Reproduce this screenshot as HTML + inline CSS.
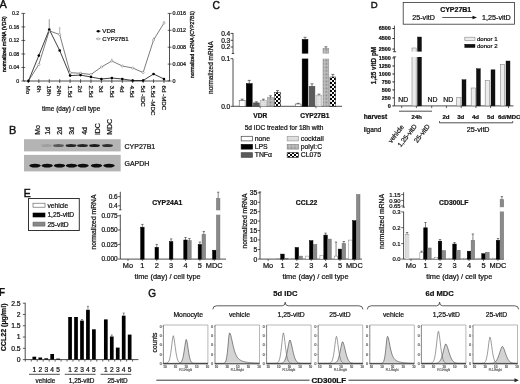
<!DOCTYPE html>
<html><head><meta charset="utf-8"><style>
html,body{margin:0;padding:0;background:#fff;width:520px;height:384px;overflow:hidden}
svg{display:block;font-family:"Liberation Sans", sans-serif;filter:grayscale(1) blur(0.3px)}
text{stroke-width:0.22}
</style></head><body>
<svg width="520" height="384" viewBox="0 0 520 384">
<rect width="520" height="384" fill="#fff"/>
<text x="-0.50" y="7.74" font-size="11" text-anchor="start" font-weight="normal" fill="#111" stroke="#111" style="stroke-width:0.4">A</text>
<line x1="23.40" y1="13.40" x2="23.40" y2="81.00" stroke="#222" stroke-width="0.8" />
<line x1="21.40" y1="81.00" x2="25.20" y2="81.00" stroke="#222" stroke-width="0.7" />
<text x="19.30" y="82.90" font-size="5.3" text-anchor="end" font-weight="normal" fill="#111" stroke="#111" >0</text>
<line x1="21.40" y1="67.48" x2="25.20" y2="67.48" stroke="#222" stroke-width="0.7" />
<text x="19.30" y="69.38" font-size="5.3" text-anchor="end" font-weight="normal" fill="#111" stroke="#111" >0.04</text>
<line x1="21.40" y1="53.96" x2="25.20" y2="53.96" stroke="#222" stroke-width="0.7" />
<text x="19.30" y="55.86" font-size="5.3" text-anchor="end" font-weight="normal" fill="#111" stroke="#111" >0.08</text>
<line x1="21.40" y1="40.44" x2="25.20" y2="40.44" stroke="#222" stroke-width="0.7" />
<text x="19.30" y="42.34" font-size="5.3" text-anchor="end" font-weight="normal" fill="#111" stroke="#111" >0.12</text>
<line x1="21.40" y1="26.92" x2="25.20" y2="26.92" stroke="#222" stroke-width="0.7" />
<text x="19.30" y="28.82" font-size="5.3" text-anchor="end" font-weight="normal" fill="#111" stroke="#111" >0.16</text>
<line x1="21.40" y1="13.40" x2="25.20" y2="13.40" stroke="#222" stroke-width="0.7" />
<text x="19.30" y="15.30" font-size="5.3" text-anchor="end" font-weight="normal" fill="#111" stroke="#111" >0.2</text>
<line x1="169.50" y1="13.40" x2="169.50" y2="81.00" stroke="#222" stroke-width="0.8" />
<line x1="167.70" y1="81.00" x2="171.50" y2="81.00" stroke="#222" stroke-width="0.7" />
<text x="172.40" y="82.93" font-size="5.4" text-anchor="start" font-weight="normal" fill="#111" stroke="#111" >0</text>
<line x1="167.70" y1="64.10" x2="171.50" y2="64.10" stroke="#222" stroke-width="0.7" />
<text x="172.40" y="66.03" font-size="5.4" text-anchor="start" font-weight="normal" fill="#111" stroke="#111" >0.004</text>
<line x1="167.70" y1="47.20" x2="171.50" y2="47.20" stroke="#222" stroke-width="0.7" />
<text x="172.40" y="49.13" font-size="5.4" text-anchor="start" font-weight="normal" fill="#111" stroke="#111" >0.008</text>
<line x1="167.70" y1="30.30" x2="171.50" y2="30.30" stroke="#222" stroke-width="0.7" />
<text x="172.40" y="32.23" font-size="5.4" text-anchor="start" font-weight="normal" fill="#111" stroke="#111" >0.012</text>
<line x1="167.70" y1="13.40" x2="171.50" y2="13.40" stroke="#222" stroke-width="0.7" />
<text x="172.40" y="15.33" font-size="5.4" text-anchor="start" font-weight="normal" fill="#111" stroke="#111" >0.016</text>
<line x1="23.40" y1="81.00" x2="169.50" y2="81.00" stroke="#222" stroke-width="0.8" />
<line x1="28.40" y1="79.20" x2="28.40" y2="83.00" stroke="#222" stroke-width="0.7" />
<line x1="38.83" y1="79.20" x2="38.83" y2="83.00" stroke="#222" stroke-width="0.7" />
<line x1="49.26" y1="79.20" x2="49.26" y2="83.00" stroke="#222" stroke-width="0.7" />
<line x1="59.69" y1="79.20" x2="59.69" y2="83.00" stroke="#222" stroke-width="0.7" />
<line x1="70.12" y1="79.20" x2="70.12" y2="83.00" stroke="#222" stroke-width="0.7" />
<line x1="80.55" y1="79.20" x2="80.55" y2="83.00" stroke="#222" stroke-width="0.7" />
<line x1="90.98" y1="79.20" x2="90.98" y2="83.00" stroke="#222" stroke-width="0.7" />
<line x1="101.41" y1="79.20" x2="101.41" y2="83.00" stroke="#222" stroke-width="0.7" />
<line x1="111.84" y1="79.20" x2="111.84" y2="83.00" stroke="#222" stroke-width="0.7" />
<line x1="122.27" y1="79.20" x2="122.27" y2="83.00" stroke="#222" stroke-width="0.7" />
<line x1="132.70" y1="79.20" x2="132.70" y2="83.00" stroke="#222" stroke-width="0.7" />
<line x1="143.13" y1="79.20" x2="143.13" y2="83.00" stroke="#222" stroke-width="0.7" />
<line x1="153.56" y1="79.20" x2="153.56" y2="83.00" stroke="#222" stroke-width="0.7" />
<line x1="163.99" y1="79.20" x2="163.99" y2="83.00" stroke="#222" stroke-width="0.7" />
<line x1="49.26" y1="19.20" x2="49.26" y2="29.50" stroke="#333" stroke-width="0.5" />
<line x1="59.69" y1="27.80" x2="59.69" y2="34.60" stroke="#aaa" stroke-width="0.9" />
<line x1="58.69" y1="27.80" x2="60.69" y2="27.80" stroke="#aaa" stroke-width="0.6" />
<line x1="111.84" y1="58.50" x2="111.84" y2="61.00" stroke="#888" stroke-width="0.6" />
<line x1="153.56" y1="37.50" x2="153.56" y2="40.00" stroke="#888" stroke-width="0.6" />
<line x1="163.99" y1="21.00" x2="163.99" y2="23.00" stroke="#888" stroke-width="0.6" />
<path d="M28.40,81.00 L38.83,64.50 L49.26,30.80 L59.69,34.60 L70.12,72.70 L80.55,73.30 L90.98,74.50 L101.41,67.00 L111.84,61.00 L122.27,66.00 L132.70,68.00 L143.13,72.50 L153.56,40.00 L163.99,23.00" fill="none" stroke="#444" stroke-width="0.7" />
<path d="M28.40,81.00 L38.83,55.60 L49.26,29.50 L59.69,50.50 L70.12,75.60 L80.55,75.10 L90.98,77.00 L101.41,79.00 L111.84,78.00 L122.27,79.00 L132.70,80.50 L143.13,80.50 L153.56,74.00 L163.99,79.00" fill="none" stroke="#111" stroke-width="0.8" />
<circle cx="28.40" cy="81.00" r="1.1" fill="#fff" stroke="#777" stroke-width="0.5"/>
<circle cx="38.83" cy="64.50" r="1.1" fill="#fff" stroke="#777" stroke-width="0.5"/>
<circle cx="49.26" cy="30.80" r="1.1" fill="#fff" stroke="#777" stroke-width="0.5"/>
<circle cx="59.69" cy="34.60" r="1.1" fill="#fff" stroke="#777" stroke-width="0.5"/>
<circle cx="70.12" cy="72.70" r="1.1" fill="#fff" stroke="#777" stroke-width="0.5"/>
<circle cx="80.55" cy="73.30" r="1.1" fill="#fff" stroke="#777" stroke-width="0.5"/>
<circle cx="90.98" cy="74.50" r="1.1" fill="#fff" stroke="#777" stroke-width="0.5"/>
<circle cx="101.41" cy="67.00" r="1.1" fill="#fff" stroke="#777" stroke-width="0.5"/>
<circle cx="111.84" cy="61.00" r="1.1" fill="#fff" stroke="#777" stroke-width="0.5"/>
<circle cx="122.27" cy="66.00" r="1.1" fill="#fff" stroke="#777" stroke-width="0.5"/>
<circle cx="132.70" cy="68.00" r="1.1" fill="#fff" stroke="#777" stroke-width="0.5"/>
<circle cx="143.13" cy="72.50" r="1.1" fill="#fff" stroke="#777" stroke-width="0.5"/>
<circle cx="153.56" cy="40.00" r="1.1" fill="#fff" stroke="#777" stroke-width="0.5"/>
<circle cx="163.99" cy="23.00" r="1.1" fill="#fff" stroke="#777" stroke-width="0.5"/>
<circle cx="28.40" cy="81.00" r="1.3" fill="#000" stroke="none" stroke-width="0.6"/>
<circle cx="38.83" cy="55.60" r="1.3" fill="#000" stroke="none" stroke-width="0.6"/>
<circle cx="49.26" cy="29.50" r="1.3" fill="#000" stroke="none" stroke-width="0.6"/>
<circle cx="59.69" cy="50.50" r="1.3" fill="#000" stroke="none" stroke-width="0.6"/>
<circle cx="70.12" cy="75.60" r="1.3" fill="#000" stroke="none" stroke-width="0.6"/>
<circle cx="80.55" cy="75.10" r="1.3" fill="#000" stroke="none" stroke-width="0.6"/>
<circle cx="90.98" cy="77.00" r="1.3" fill="#000" stroke="none" stroke-width="0.6"/>
<circle cx="101.41" cy="79.00" r="1.3" fill="#000" stroke="none" stroke-width="0.6"/>
<circle cx="111.84" cy="78.00" r="1.3" fill="#000" stroke="none" stroke-width="0.6"/>
<circle cx="122.27" cy="79.00" r="1.3" fill="#000" stroke="none" stroke-width="0.6"/>
<circle cx="132.70" cy="80.50" r="1.3" fill="#000" stroke="none" stroke-width="0.6"/>
<circle cx="143.13" cy="80.50" r="1.3" fill="#000" stroke="none" stroke-width="0.6"/>
<circle cx="153.56" cy="74.00" r="1.3" fill="#000" stroke="none" stroke-width="0.6"/>
<circle cx="163.99" cy="79.00" r="1.3" fill="#000" stroke="none" stroke-width="0.6"/>
<line x1="96.00" y1="31.20" x2="100.60" y2="31.20" stroke="#222" stroke-width="0.7" />
<circle cx="98.30" cy="31.20" r="1.3" fill="#000" stroke="none" stroke-width="0.6"/>
<text x="102.30" y="33.42" font-size="6.2" text-anchor="start" font-weight="normal" fill="#111" stroke="#111" >VDR</text>
<line x1="96.00" y1="38.80" x2="100.60" y2="38.80" stroke="#777" stroke-width="0.7" />
<circle cx="98.30" cy="38.80" r="1.1" fill="#fff" stroke="#777" stroke-width="0.5"/>
<text x="102.30" y="40.95" font-size="6.0" text-anchor="start" font-weight="normal" fill="#111" stroke="#111" >CYP27B1</text>
<text transform="translate(3.90,44.10) rotate(-90)" x="0" y="1.79" font-size="5.0" text-anchor="middle" font-weight="normal" fill="#111" stroke="#111" style="stroke-width:0.35">normalized mRNA (VDR)</text>
<text transform="translate(192.30,44.60) rotate(-90)" x="0" y="1.79" font-size="5.0" text-anchor="middle" font-weight="normal" fill="#111" stroke="#111" style="stroke-width:0.3">normalized mRNA (CYP27B1)</text>
<text transform="translate(28.40,85.50) rotate(90)" x="0" y="2.22" font-size="6.2" text-anchor="start" font-weight="normal" fill="#111" stroke="#111" >Mo</text>
<text transform="translate(38.83,85.50) rotate(90)" x="0" y="2.22" font-size="6.2" text-anchor="start" font-weight="normal" fill="#111" stroke="#111" >6h</text>
<text transform="translate(49.26,85.50) rotate(90)" x="0" y="2.22" font-size="6.2" text-anchor="start" font-weight="normal" fill="#111" stroke="#111" >18h</text>
<text transform="translate(59.69,85.50) rotate(90)" x="0" y="2.22" font-size="6.2" text-anchor="start" font-weight="normal" fill="#111" stroke="#111" >24h</text>
<text transform="translate(70.12,85.50) rotate(90)" x="0" y="2.22" font-size="6.2" text-anchor="start" font-weight="normal" fill="#111" stroke="#111" >1.5d</text>
<text transform="translate(80.55,85.50) rotate(90)" x="0" y="2.22" font-size="6.2" text-anchor="start" font-weight="normal" fill="#111" stroke="#111" >2d</text>
<text transform="translate(90.98,85.50) rotate(90)" x="0" y="2.22" font-size="6.2" text-anchor="start" font-weight="normal" fill="#111" stroke="#111" >2.5d</text>
<text transform="translate(101.41,85.50) rotate(90)" x="0" y="2.22" font-size="6.2" text-anchor="start" font-weight="normal" fill="#111" stroke="#111" >3d</text>
<text transform="translate(111.84,85.50) rotate(90)" x="0" y="2.22" font-size="6.2" text-anchor="start" font-weight="normal" fill="#111" stroke="#111" >3.5d</text>
<text transform="translate(122.27,85.50) rotate(90)" x="0" y="2.22" font-size="6.2" text-anchor="start" font-weight="normal" fill="#111" stroke="#111" >4d</text>
<text transform="translate(132.70,85.50) rotate(90)" x="0" y="2.22" font-size="6.2" text-anchor="start" font-weight="normal" fill="#111" stroke="#111" >4.5d</text>
<text transform="translate(143.13,85.50) rotate(90)" x="0" y="2.22" font-size="6.2" text-anchor="start" font-weight="normal" fill="#111" stroke="#111" >5d -IDC</text>
<text transform="translate(153.56,85.50) rotate(90)" x="0" y="2.22" font-size="6.2" text-anchor="start" font-weight="normal" fill="#111" stroke="#111" >5.5d -MDC</text>
<text transform="translate(163.99,85.50) rotate(90)" x="0" y="2.22" font-size="6.2" text-anchor="start" font-weight="normal" fill="#111" stroke="#111" >6d -MDC</text>
<text x="71.20" y="110.83" font-size="6.5" text-anchor="middle" font-weight="normal" fill="#111" stroke="#111" >time (day) / cell type</text>
<text x="9.00" y="133.84" font-size="11" text-anchor="start" font-weight="normal" fill="#111" stroke="#111" style="stroke-width:0.4">B</text>
<text transform="translate(37.40,134.80) rotate(-90)" x="0" y="2.51" font-size="7.0" text-anchor="start" font-weight="normal" fill="#111" stroke="#111" >Mo</text>
<text transform="translate(47.60,134.80) rotate(-90)" x="0" y="2.51" font-size="7.0" text-anchor="start" font-weight="normal" fill="#111" stroke="#111" >1d</text>
<text transform="translate(59.20,134.80) rotate(-90)" x="0" y="2.51" font-size="7.0" text-anchor="start" font-weight="normal" fill="#111" stroke="#111" >2d</text>
<text transform="translate(71.30,134.80) rotate(-90)" x="0" y="2.51" font-size="7.0" text-anchor="start" font-weight="normal" fill="#111" stroke="#111" >3d</text>
<text transform="translate(84.20,134.80) rotate(-90)" x="0" y="2.51" font-size="7.0" text-anchor="start" font-weight="normal" fill="#111" stroke="#111" >4d</text>
<text transform="translate(97.20,134.80) rotate(-90)" x="0" y="2.51" font-size="7.0" text-anchor="start" font-weight="normal" fill="#111" stroke="#111" >iDC</text>
<text transform="translate(109.30,134.80) rotate(-90)" x="0" y="2.51" font-size="7.0" text-anchor="start" font-weight="normal" fill="#111" stroke="#111" >MDC</text>
<defs><filter id="bl" x="-20%" y="-50%" width="140%" height="200%"><feGaussianBlur stdDeviation="0.6"/></filter><filter id="bl2" x="-20%" y="-50%" width="140%" height="200%"><feGaussianBlur stdDeviation="0.9"/></filter></defs>
<rect x="24.00" y="139.20" width="96.70" height="12.20" fill="#b4b4b4" stroke="none" stroke-width="0.6" />
<rect x="24.00" y="154.90" width="96.70" height="16.50" fill="#b4b4b4" stroke="none" stroke-width="0.6" />
<ellipse cx="46.5" cy="145.6" rx="5.4" ry="1.5" fill="#111" opacity="0.12" filter="url(#bl)"/>
<ellipse cx="58.5" cy="145.6" rx="5.4" ry="1.5" fill="#111" opacity="0.55" filter="url(#bl)"/>
<ellipse cx="71" cy="145.6" rx="5.4" ry="1.5" fill="#111" opacity="0.85" filter="url(#bl)"/>
<ellipse cx="82.5" cy="145.6" rx="5.4" ry="1.5" fill="#111" opacity="0.85" filter="url(#bl)"/>
<ellipse cx="94.5" cy="145.6" rx="5.4" ry="1.5" fill="#111" opacity="0.9" filter="url(#bl)"/>
<ellipse cx="107.5" cy="145.6" rx="5.4" ry="1.5" fill="#111" opacity="0.8" filter="url(#bl)"/>
<ellipse cx="35" cy="165.6" rx="5.7" ry="1.95" fill="#0a0a0a" filter="url(#bl)"/>
<ellipse cx="47.2" cy="165.6" rx="5.7" ry="1.95" fill="#0a0a0a" filter="url(#bl)"/>
<ellipse cx="59.5" cy="165.6" rx="5.7" ry="1.95" fill="#0a0a0a" filter="url(#bl)"/>
<ellipse cx="71.5" cy="165.6" rx="5.7" ry="1.95" fill="#0a0a0a" filter="url(#bl)"/>
<ellipse cx="83" cy="165.6" rx="5.7" ry="1.95" fill="#0a0a0a" filter="url(#bl)"/>
<ellipse cx="96.5" cy="165.6" rx="5.7" ry="1.95" fill="#0a0a0a" filter="url(#bl)"/>
<ellipse cx="109" cy="165.6" rx="5.7" ry="1.95" fill="#0a0a0a" filter="url(#bl)"/>
<text x="124.50" y="148.51" font-size="7" text-anchor="start" font-weight="normal" fill="#111" stroke="#111" >CYP27B1</text>
<text x="124.50" y="165.51" font-size="7" text-anchor="start" font-weight="normal" fill="#111" stroke="#111" >GAPDH</text>
<text x="212.60" y="8.59" font-size="10.3" text-anchor="start" font-weight="normal" fill="#111" stroke="#111" style="stroke-width:0.4">C</text>
<line x1="233.00" y1="33.00" x2="233.00" y2="53.50" stroke="#222" stroke-width="0.8" />
<line x1="231.80" y1="53.50" x2="234.20" y2="53.50" stroke="#222" stroke-width="0.8" />
<line x1="233.00" y1="58.70" x2="233.00" y2="106.30" stroke="#222" stroke-width="0.8" />
<line x1="230.60" y1="33.40" x2="233.00" y2="33.40" stroke="#222" stroke-width="0.8" />
<text x="230.30" y="35.76" font-size="6.6" text-anchor="end" font-weight="normal" fill="#111" stroke="#111" >0.4</text>
<line x1="230.60" y1="40.30" x2="233.00" y2="40.30" stroke="#222" stroke-width="0.8" />
<text x="230.30" y="42.66" font-size="6.6" text-anchor="end" font-weight="normal" fill="#111" stroke="#111" >0.3</text>
<line x1="230.60" y1="47.00" x2="233.00" y2="47.00" stroke="#222" stroke-width="0.8" />
<text x="230.30" y="49.36" font-size="6.6" text-anchor="end" font-weight="normal" fill="#111" stroke="#111" >0.2</text>
<line x1="230.60" y1="58.70" x2="233.00" y2="58.70" stroke="#222" stroke-width="0.8" />
<text x="230.30" y="61.06" font-size="6.6" text-anchor="end" font-weight="normal" fill="#111" stroke="#111" >0.1</text>
<line x1="230.60" y1="106.30" x2="233.00" y2="106.30" stroke="#222" stroke-width="0.8" />
<text x="230.30" y="108.66" font-size="6.6" text-anchor="end" font-weight="normal" fill="#111" stroke="#111" >0.0</text>
<line x1="233.00" y1="106.30" x2="342.00" y2="106.30" stroke="#222" stroke-width="0.8" />
<line x1="260.20" y1="106.30" x2="260.20" y2="108.30" stroke="#222" stroke-width="0.7" />
<line x1="316.00" y1="106.30" x2="316.00" y2="108.30" stroke="#222" stroke-width="0.7" />
<defs><pattern id="chk" width="4" height="4" patternUnits="userSpaceOnUse"><rect width="4" height="4" fill="#fff"/><rect width="2" height="2" fill="#000"/><rect x="2" y="2" width="2" height="2" fill="#000"/></pattern><pattern id="dot" width="1.4" height="1.4" patternUnits="userSpaceOnUse"><rect width="1.4" height="1.4" fill="#bdbdbd"/><rect width="0.7" height="0.7" fill="#8a8a8a"/></pattern><pattern id="ltd" width="1.6" height="1.6" patternUnits="userSpaceOnUse"><rect width="1.6" height="1.6" fill="#e4e4e4"/><rect width="0.8" height="0.8" fill="#cfcfcf"/></pattern><pattern id="chk2" width="2.8" height="2.8" patternUnits="userSpaceOnUse" x="0.3" y="0.2"><rect width="2.8" height="2.8" fill="#fff"/><rect width="1.4" height="1.4" fill="#000"/><rect x="1.4" y="1.4" width="1.4" height="1.4" fill="#000"/></pattern></defs>
<rect x="239.20" y="100.60" width="5.90" height="5.70" fill="#fff" stroke="#444" stroke-width="0.5" />
<line x1="242.15" y1="99.20" x2="242.15" y2="100.60" stroke="#222" stroke-width="0.6" />
<line x1="240.65" y1="99.20" x2="243.65" y2="99.20" stroke="#222" stroke-width="0.6" />
<rect x="246.28" y="83.60" width="5.90" height="22.70" fill="#000" stroke="#000" stroke-width="0.5" />
<line x1="249.23" y1="80.40" x2="249.23" y2="83.60" stroke="#222" stroke-width="0.6" />
<line x1="247.73" y1="80.40" x2="250.73" y2="80.40" stroke="#222" stroke-width="0.6" />
<rect x="253.36" y="102.90" width="5.90" height="3.40" fill="#5a5a5a" stroke="#444" stroke-width="0.5" />
<line x1="256.31" y1="101.80" x2="256.31" y2="102.90" stroke="#222" stroke-width="0.6" />
<line x1="254.81" y1="101.80" x2="257.81" y2="101.80" stroke="#222" stroke-width="0.6" />
<rect x="260.44" y="100.60" width="5.90" height="5.70" fill="url(#ltd)" stroke="#999" stroke-width="0.5" />
<line x1="263.39" y1="99.20" x2="263.39" y2="100.60" stroke="#222" stroke-width="0.6" />
<line x1="261.89" y1="99.20" x2="264.89" y2="99.20" stroke="#222" stroke-width="0.6" />
<rect x="267.52" y="97.70" width="5.90" height="8.60" fill="url(#dot)" stroke="#888" stroke-width="0.5" />
<line x1="270.47" y1="95.80" x2="270.47" y2="97.70" stroke="#222" stroke-width="0.6" />
<line x1="268.97" y1="95.80" x2="271.97" y2="95.80" stroke="#222" stroke-width="0.6" />
<rect x="274.60" y="92.50" width="5.90" height="13.80" fill="url(#chk)" stroke="#222" stroke-width="0.5" />
<line x1="277.55" y1="90.60" x2="277.55" y2="92.50" stroke="#222" stroke-width="0.6" />
<line x1="276.05" y1="90.60" x2="279.05" y2="90.60" stroke="#222" stroke-width="0.6" />
<rect x="295.20" y="104.00" width="5.80" height="2.30" fill="#fff" stroke="#444" stroke-width="0.5" />
<line x1="298.10" y1="103.30" x2="298.10" y2="104.00" stroke="#222" stroke-width="0.6" />
<line x1="296.60" y1="103.30" x2="299.60" y2="103.30" stroke="#222" stroke-width="0.6" />
<rect x="302.15" y="39.40" width="5.80" height="66.90" fill="#000" stroke="#000" stroke-width="0.5" />
<line x1="305.05" y1="37.30" x2="305.05" y2="39.40" stroke="#222" stroke-width="0.6" />
<line x1="303.55" y1="37.30" x2="306.55" y2="37.30" stroke="#222" stroke-width="0.6" />
<rect x="309.10" y="86.30" width="5.80" height="20.00" fill="#5a5a5a" stroke="#444" stroke-width="0.5" />
<line x1="312.00" y1="83.80" x2="312.00" y2="86.30" stroke="#222" stroke-width="0.6" />
<line x1="310.50" y1="83.80" x2="313.50" y2="83.80" stroke="#222" stroke-width="0.6" />
<rect x="316.05" y="95.20" width="5.80" height="11.10" fill="url(#ltd)" stroke="#999" stroke-width="0.5" />
<line x1="318.95" y1="94.20" x2="318.95" y2="95.20" stroke="#222" stroke-width="0.6" />
<line x1="317.45" y1="94.20" x2="320.45" y2="94.20" stroke="#222" stroke-width="0.6" />
<rect x="323.00" y="48.30" width="5.80" height="58.00" fill="url(#dot)" stroke="#888" stroke-width="0.5" />
<line x1="325.90" y1="46.80" x2="325.90" y2="48.30" stroke="#222" stroke-width="0.6" />
<line x1="324.40" y1="46.80" x2="327.40" y2="46.80" stroke="#222" stroke-width="0.6" />
<rect x="329.95" y="77.00" width="5.80" height="29.30" fill="url(#chk)" stroke="#222" stroke-width="0.5" />
<line x1="332.85" y1="74.40" x2="332.85" y2="77.00" stroke="#222" stroke-width="0.6" />
<line x1="331.35" y1="74.40" x2="334.35" y2="74.40" stroke="#222" stroke-width="0.6" />
<rect x="300.50" y="53.60" width="30.00" height="5.00" fill="#fff" stroke="none" stroke-width="0.6" />
<text x="260.20" y="117.86" font-size="6.6" text-anchor="middle" font-weight="bold" fill="#111" stroke="#111" >VDR</text>
<text x="314.80" y="117.86" font-size="6.6" text-anchor="middle" font-weight="bold" fill="#111" stroke="#111" >CYP27B1</text>
<text x="284.10" y="130.36" font-size="6.6" text-anchor="middle" font-weight="normal" fill="#111" stroke="#111" >5d IDC treated for 18h with</text>
<rect x="241.20" y="136.30" width="11.20" height="4.60" fill="#fff" stroke="#444" stroke-width="0.7" />
<text x="254.70" y="141.07" font-size="6.9" text-anchor="start" font-weight="normal" fill="#111" stroke="#111" >none</text>
<rect x="241.20" y="144.50" width="11.20" height="4.60" fill="#000" stroke="#000" stroke-width="0.7" />
<text x="254.70" y="149.27" font-size="6.9" text-anchor="start" font-weight="normal" fill="#111" stroke="#111" >LPS</text>
<rect x="241.20" y="152.70" width="11.20" height="4.60" fill="#5a5a5a" stroke="#444" stroke-width="0.7" />
<text x="254.70" y="157.47" font-size="6.9" text-anchor="start" font-weight="normal" fill="#111" stroke="#111" >TNFα</text>
<rect x="287.20" y="136.30" width="11.20" height="4.60" fill="url(#ltd)" stroke="#999" stroke-width="0.7" />
<text x="300.70" y="141.07" font-size="6.9" text-anchor="start" font-weight="normal" fill="#111" stroke="#111" >cocktail</text>
<rect x="287.20" y="144.50" width="11.20" height="4.60" fill="url(#dot)" stroke="#888" stroke-width="0.7" />
<text x="300.70" y="149.27" font-size="6.9" text-anchor="start" font-weight="normal" fill="#111" stroke="#111" >polyI:C</text>
<rect x="287.20" y="152.70" width="11.20" height="4.60" fill="url(#chk)" stroke="#222" stroke-width="0.7" />
<text x="300.70" y="157.47" font-size="6.9" text-anchor="start" font-weight="normal" fill="#111" stroke="#111" >CL075</text>
<text transform="translate(210.90,67.60) rotate(-90)" x="0" y="2.33" font-size="6.5" text-anchor="middle" font-weight="normal" fill="#111" stroke="#111" >normalized mRNA</text>
<text x="370.70" y="7.94" font-size="9.6" text-anchor="start" font-weight="normal" fill="#111" stroke="#111" style="stroke-width:0.4">D</text>
<rect x="403.20" y="2.50" width="111.20" height="21.70" fill="none" stroke="#333" stroke-width="0.8" />
<text x="455.70" y="12.31" font-size="7.0" text-anchor="middle" font-weight="bold" fill="#111" stroke="#111" >CYP27B1</text>
<text x="412.20" y="19.98" font-size="7.2" text-anchor="start" font-weight="normal" fill="#111" stroke="#111" >25-vitD</text>
<text x="482.00" y="19.98" font-size="7.2" text-anchor="start" font-weight="normal" fill="#111" stroke="#111" >1,25-vitD</text>
<line x1="442.30" y1="17.50" x2="473.50" y2="17.50" stroke="#111" stroke-width="0.7" />
<path d="M472.5,15.8 L477,17.5 L472.5,19.2 Z" fill="#111" stroke="none" stroke-width="0.8" />
<line x1="394.40" y1="25.60" x2="394.40" y2="51.70" stroke="#222" stroke-width="0.8" />
<line x1="393.00" y1="51.70" x2="396.20" y2="51.70" stroke="#222" stroke-width="0.8" />
<line x1="393.00" y1="56.90" x2="396.20" y2="56.90" stroke="#222" stroke-width="0.8" />
<line x1="394.40" y1="56.90" x2="394.40" y2="105.90" stroke="#222" stroke-width="0.8" />
<line x1="392.40" y1="28.50" x2="394.40" y2="28.50" stroke="#222" stroke-width="1.0" />
<text x="390.70" y="30.43" font-size="5.4" text-anchor="end" font-weight="bold" fill="#111" stroke="#111" >6500</text>
<line x1="392.40" y1="38.50" x2="394.40" y2="38.50" stroke="#222" stroke-width="1.0" />
<text x="390.70" y="40.43" font-size="5.4" text-anchor="end" font-weight="bold" fill="#111" stroke="#111" >4500</text>
<line x1="392.40" y1="49.10" x2="394.40" y2="49.10" stroke="#222" stroke-width="1.0" />
<text x="390.70" y="51.03" font-size="5.4" text-anchor="end" font-weight="bold" fill="#111" stroke="#111" >2500</text>
<line x1="392.40" y1="58.00" x2="394.40" y2="58.00" stroke="#222" stroke-width="1.0" />
<text x="390.70" y="59.93" font-size="5.4" text-anchor="end" font-weight="bold" fill="#111" stroke="#111" >1500</text>
<line x1="392.40" y1="66.00" x2="394.40" y2="66.00" stroke="#222" stroke-width="1.0" />
<text x="390.70" y="67.93" font-size="5.4" text-anchor="end" font-weight="bold" fill="#111" stroke="#111" >1250</text>
<line x1="392.40" y1="74.00" x2="394.40" y2="74.00" stroke="#222" stroke-width="1.0" />
<text x="390.70" y="75.93" font-size="5.4" text-anchor="end" font-weight="bold" fill="#111" stroke="#111" >1000</text>
<line x1="392.40" y1="81.90" x2="394.40" y2="81.90" stroke="#222" stroke-width="1.0" />
<text x="390.70" y="83.83" font-size="5.4" text-anchor="end" font-weight="bold" fill="#111" stroke="#111" >750</text>
<line x1="392.40" y1="89.90" x2="394.40" y2="89.90" stroke="#222" stroke-width="1.0" />
<text x="390.70" y="91.83" font-size="5.4" text-anchor="end" font-weight="bold" fill="#111" stroke="#111" >500</text>
<line x1="392.40" y1="97.90" x2="394.40" y2="97.90" stroke="#222" stroke-width="1.0" />
<text x="390.70" y="99.83" font-size="5.4" text-anchor="end" font-weight="bold" fill="#111" stroke="#111" >250</text>
<line x1="392.40" y1="105.90" x2="394.40" y2="105.90" stroke="#222" stroke-width="1.0" />
<text x="390.70" y="107.83" font-size="5.4" text-anchor="end" font-weight="bold" fill="#111" stroke="#111" >0</text>
<line x1="394.40" y1="105.90" x2="513.50" y2="105.90" stroke="#222" stroke-width="0.8" />
<line x1="401.70" y1="105.90" x2="401.70" y2="108.10" stroke="#222" stroke-width="0.7" />
<line x1="416.40" y1="105.90" x2="416.40" y2="108.10" stroke="#222" stroke-width="0.7" />
<line x1="431.70" y1="105.90" x2="431.70" y2="108.10" stroke="#222" stroke-width="0.7" />
<line x1="446.40" y1="105.90" x2="446.40" y2="108.10" stroke="#222" stroke-width="0.7" />
<line x1="461.20" y1="105.90" x2="461.20" y2="108.10" stroke="#222" stroke-width="0.7" />
<line x1="475.90" y1="105.90" x2="475.90" y2="108.10" stroke="#222" stroke-width="0.7" />
<line x1="490.60" y1="105.90" x2="490.60" y2="108.10" stroke="#222" stroke-width="0.7" />
<line x1="508.50" y1="105.90" x2="508.50" y2="108.10" stroke="#222" stroke-width="0.7" />
<rect x="412.00" y="48.00" width="4.20" height="57.90" fill="#ececec" stroke="#888" stroke-width="0.6" />
<rect x="417.50" y="37.00" width="4.00" height="68.90" fill="#111" stroke="#111" stroke-width="0.4" />
<rect x="410.00" y="51.60" width="13.00" height="5.40" fill="#fff" stroke="none" stroke-width="0.6" />
<rect x="456.70" y="97.30" width="4.20" height="8.60" fill="#ececec" stroke="#888" stroke-width="0.6" />
<rect x="462.00" y="79.70" width="4.00" height="26.20" fill="#111" stroke="#111" stroke-width="0.4" />
<rect x="471.20" y="88.00" width="4.20" height="17.90" fill="#ececec" stroke="#888" stroke-width="0.6" />
<rect x="476.40" y="68.70" width="4.00" height="37.20" fill="#111" stroke="#111" stroke-width="0.4" />
<rect x="485.20" y="80.40" width="4.20" height="25.50" fill="#ececec" stroke="#888" stroke-width="0.6" />
<rect x="491.00" y="69.80" width="4.00" height="36.10" fill="#111" stroke="#111" stroke-width="0.4" />
<rect x="500.40" y="64.50" width="4.20" height="41.40" fill="#ececec" stroke="#888" stroke-width="0.6" />
<rect x="506.00" y="61.00" width="4.00" height="44.90" fill="#111" stroke="#111" stroke-width="0.4" />
<text x="403.20" y="102.17" font-size="6.9" text-anchor="middle" font-weight="normal" fill="#111" stroke="#111" >ND</text>
<text x="432.50" y="102.17" font-size="6.9" text-anchor="middle" font-weight="normal" fill="#111" stroke="#111" >ND</text>
<text x="448.20" y="102.17" font-size="6.9" text-anchor="middle" font-weight="normal" fill="#111" stroke="#111" >ND</text>
<rect x="464.80" y="37.20" width="10.20" height="3.40" fill="#ececec" stroke="#888" stroke-width="0.6" />
<rect x="464.80" y="44.20" width="10.20" height="3.40" fill="#111" stroke="#111" stroke-width="0.4" />
<text x="476.90" y="41.18" font-size="6.1" text-anchor="start" font-weight="normal" fill="#111" stroke="#111" >donor 1</text>
<text x="476.90" y="48.38" font-size="6.1" text-anchor="start" font-weight="normal" fill="#111" stroke="#111" >donor 2</text>
<text transform="translate(373.40,65.50) rotate(-90)" x="0" y="2.29" font-size="6.4" text-anchor="middle" font-weight="bold" fill="#111" stroke="#111" >1,25 vitD pM</text>
<text x="363.70" y="119.16" font-size="6.6" text-anchor="start" font-weight="bold" fill="#111" stroke="#111" >harvest</text>
<text x="416.70" y="118.91" font-size="5.9" text-anchor="middle" font-weight="bold" fill="#111" stroke="#111" >24h</text>
<text x="446.00" y="118.98" font-size="6.1" text-anchor="middle" font-weight="bold" fill="#111" stroke="#111" >2d</text>
<text x="460.80" y="118.98" font-size="6.1" text-anchor="middle" font-weight="bold" fill="#111" stroke="#111" >3d</text>
<text x="475.50" y="118.98" font-size="6.1" text-anchor="middle" font-weight="bold" fill="#111" stroke="#111" >4d</text>
<text x="490.60" y="118.98" font-size="6.1" text-anchor="middle" font-weight="bold" fill="#111" stroke="#111" >5d</text>
<text x="509.20" y="118.95" font-size="6.0" text-anchor="middle" font-weight="bold" fill="#111" stroke="#111" >6d/MDC</text>
<line x1="399.00" y1="111.20" x2="432.00" y2="111.20" stroke="#222" stroke-width="0.8" />
<text x="363.70" y="131.76" font-size="6.6" text-anchor="start" font-weight="normal" fill="#111" stroke="#111" >ligand</text>
<text transform="translate(402.40,125.60) rotate(-52)" x="0" y="2.40" font-size="6.7" text-anchor="end" font-weight="normal" fill="#111" stroke="#111" >vehicle</text>
<text transform="translate(415.40,124.90) rotate(-52)" x="0" y="2.40" font-size="6.7" text-anchor="end" font-weight="normal" fill="#111" stroke="#111" >1,25-vitD</text>
<text transform="translate(428.40,125.00) rotate(-52)" x="0" y="2.40" font-size="6.7" text-anchor="end" font-weight="normal" fill="#111" stroke="#111" >25-vitD</text>
<path d="M439.5,121.2 L439.5,122.8 L512.7,122.8 L512.7,121.2" fill="none" stroke="#222" stroke-width="0.8" />
<text x="478.20" y="131.98" font-size="7.2" text-anchor="middle" font-weight="normal" fill="#111" stroke="#111" >25-vitD</text>
<text x="23.80" y="196.52" font-size="10.4" text-anchor="start" font-weight="normal" fill="#111" stroke="#111" style="stroke-width:0.5">E</text>
<rect x="28.50" y="198.50" width="50.80" height="32.00" fill="none" stroke="#333" stroke-width="1.0" />
<rect x="33.00" y="203.20" width="12.00" height="4.00" fill="#fff" stroke="#555" stroke-width="0.6" />
<text x="47.40" y="207.60" font-size="6.7" text-anchor="start" font-weight="normal" fill="#111" stroke="#111" >vehicle</text>
<rect x="33.00" y="213.00" width="12.00" height="4.00" fill="#000" stroke="#000" stroke-width="0.6" />
<text x="47.40" y="217.40" font-size="6.7" text-anchor="start" font-weight="normal" fill="#111" stroke="#111" >1,25-vitD</text>
<rect x="33.00" y="222.10" width="12.00" height="4.00" fill="#888" stroke="#666" stroke-width="0.6" />
<text x="47.40" y="226.50" font-size="6.7" text-anchor="start" font-weight="normal" fill="#111" stroke="#111" >25-vitD</text>
<line x1="120.30" y1="191.80" x2="120.30" y2="209.80" stroke="#222" stroke-width="0.8" />
<line x1="119.10" y1="209.80" x2="121.50" y2="209.80" stroke="#222" stroke-width="0.8" />
<line x1="120.30" y1="214.60" x2="120.30" y2="259.10" stroke="#222" stroke-width="0.8" />
<line x1="120.30" y1="259.10" x2="226.00" y2="259.10" stroke="#222" stroke-width="0.8" />
<line x1="117.90" y1="196.60" x2="120.30" y2="196.60" stroke="#222" stroke-width="0.7" />
<text x="117.70" y="198.93" font-size="6.5" text-anchor="end" font-weight="normal" fill="#111" stroke="#111" >0.6</text>
<line x1="117.90" y1="205.80" x2="120.30" y2="205.80" stroke="#222" stroke-width="0.7" />
<text x="117.70" y="208.13" font-size="6.5" text-anchor="end" font-weight="normal" fill="#111" stroke="#111" >0.4</text>
<line x1="117.90" y1="215.80" x2="120.30" y2="215.80" stroke="#222" stroke-width="0.7" />
<text x="117.70" y="218.13" font-size="6.5" text-anchor="end" font-weight="normal" fill="#111" stroke="#111" >0.075</text>
<line x1="117.90" y1="230.00" x2="120.30" y2="230.00" stroke="#222" stroke-width="0.7" />
<text x="117.70" y="232.33" font-size="6.5" text-anchor="end" font-weight="normal" fill="#111" stroke="#111" >0.050</text>
<line x1="117.90" y1="244.40" x2="120.30" y2="244.40" stroke="#222" stroke-width="0.7" />
<text x="117.70" y="246.73" font-size="6.5" text-anchor="end" font-weight="normal" fill="#111" stroke="#111" >0.025</text>
<line x1="117.90" y1="259.10" x2="120.30" y2="259.10" stroke="#222" stroke-width="0.7" />
<text x="117.70" y="261.43" font-size="6.5" text-anchor="end" font-weight="normal" fill="#111" stroke="#111" >0.000</text>
<rect x="140.63" y="227.20" width="3.50" height="31.90" fill="#000" stroke="#000" stroke-width="0.5" />
<line x1="142.38" y1="224.40" x2="142.38" y2="227.20" stroke="#333" stroke-width="0.6" />
<line x1="141.18" y1="224.40" x2="143.58" y2="224.40" stroke="#333" stroke-width="0.6" />
<rect x="155.01" y="247.30" width="3.50" height="11.80" fill="#000" stroke="#000" stroke-width="0.5" />
<line x1="156.76" y1="244.40" x2="156.76" y2="247.30" stroke="#333" stroke-width="0.6" />
<line x1="155.56" y1="244.40" x2="157.96" y2="244.40" stroke="#333" stroke-width="0.6" />
<rect x="169.39" y="241.60" width="3.50" height="17.50" fill="#000" stroke="#000" stroke-width="0.5" />
<line x1="171.14" y1="238.90" x2="171.14" y2="241.60" stroke="#333" stroke-width="0.6" />
<line x1="169.94" y1="238.90" x2="172.34" y2="238.90" stroke="#333" stroke-width="0.6" />
<rect x="183.77" y="240.00" width="3.50" height="19.10" fill="#000" stroke="#000" stroke-width="0.5" />
<line x1="185.52" y1="237.50" x2="185.52" y2="240.00" stroke="#333" stroke-width="0.6" />
<line x1="184.32" y1="237.50" x2="186.72" y2="237.50" stroke="#333" stroke-width="0.6" />
<rect x="187.67" y="240.70" width="3.50" height="18.40" fill="#8a8a8a" stroke="#6a6a6a" stroke-width="0.5" />
<line x1="189.42" y1="238.50" x2="189.42" y2="240.70" stroke="#333" stroke-width="0.6" />
<line x1="188.22" y1="238.50" x2="190.62" y2="238.50" stroke="#333" stroke-width="0.6" />
<rect x="198.15" y="244.40" width="3.50" height="14.70" fill="#000" stroke="#000" stroke-width="0.5" />
<line x1="199.90" y1="242.00" x2="199.90" y2="244.40" stroke="#333" stroke-width="0.6" />
<line x1="198.70" y1="242.00" x2="201.10" y2="242.00" stroke="#333" stroke-width="0.6" />
<rect x="202.05" y="234.40" width="3.50" height="24.70" fill="#8a8a8a" stroke="#6a6a6a" stroke-width="0.5" />
<line x1="203.80" y1="231.50" x2="203.80" y2="234.40" stroke="#333" stroke-width="0.6" />
<line x1="202.60" y1="231.50" x2="205.00" y2="231.50" stroke="#333" stroke-width="0.6" />
<rect x="212.53" y="250.20" width="3.50" height="8.90" fill="#000" stroke="#000" stroke-width="0.5" />
<rect x="216.43" y="198.60" width="3.50" height="60.50" fill="#8a8a8a" stroke="#6a6a6a" stroke-width="0.5" />
<line x1="218.18" y1="192.20" x2="218.18" y2="198.60" stroke="#333" stroke-width="0.6" />
<line x1="216.98" y1="192.20" x2="219.38" y2="192.20" stroke="#333" stroke-width="0.6" />
<rect x="215.78" y="210.30" width="5.00" height="4.40" fill="#fff" stroke="none" stroke-width="0.6" />
<line x1="128.00" y1="259.10" x2="128.00" y2="260.90" stroke="#222" stroke-width="0.7" />
<text x="128.00" y="268.25" font-size="7.4" text-anchor="middle" font-weight="normal" fill="#111" stroke="#111" >Mo</text>
<line x1="142.38" y1="259.10" x2="142.38" y2="260.90" stroke="#222" stroke-width="0.7" />
<text x="142.38" y="268.25" font-size="7.4" text-anchor="middle" font-weight="normal" fill="#111" stroke="#111" >1</text>
<line x1="156.76" y1="259.10" x2="156.76" y2="260.90" stroke="#222" stroke-width="0.7" />
<text x="156.76" y="268.25" font-size="7.4" text-anchor="middle" font-weight="normal" fill="#111" stroke="#111" >2</text>
<line x1="171.14" y1="259.10" x2="171.14" y2="260.90" stroke="#222" stroke-width="0.7" />
<text x="171.14" y="268.25" font-size="7.4" text-anchor="middle" font-weight="normal" fill="#111" stroke="#111" >3</text>
<line x1="185.52" y1="259.10" x2="185.52" y2="260.90" stroke="#222" stroke-width="0.7" />
<text x="185.52" y="268.25" font-size="7.4" text-anchor="middle" font-weight="normal" fill="#111" stroke="#111" >4</text>
<line x1="199.90" y1="259.10" x2="199.90" y2="260.90" stroke="#222" stroke-width="0.7" />
<text x="199.90" y="268.25" font-size="7.4" text-anchor="middle" font-weight="normal" fill="#111" stroke="#111" >5</text>
<line x1="214.28" y1="259.10" x2="214.28" y2="260.90" stroke="#222" stroke-width="0.7" />
<text x="214.28" y="268.25" font-size="7.4" text-anchor="middle" font-weight="normal" fill="#111" stroke="#111" >MDC</text>
<text x="167.60" y="279.15" font-size="7.4" text-anchor="middle" font-weight="normal" fill="#111" stroke="#111" >time (day) / cell type</text>
<text x="167.30" y="204.83" font-size="6.8" text-anchor="middle" font-weight="bold" fill="#111" stroke="#111" >CYP24A1</text>
<text transform="translate(93.80,222.00) rotate(-90)" x="0" y="2.43" font-size="6.8" text-anchor="middle" font-weight="normal" fill="#111" stroke="#111" >normalized mRNA</text>
<line x1="260.00" y1="192.00" x2="260.00" y2="192.00" stroke="#222" stroke-width="0.8" />
<line x1="258.80" y1="192.00" x2="261.20" y2="192.00" stroke="#222" stroke-width="0.8" />
<line x1="260.00" y1="192.00" x2="260.00" y2="259.10" stroke="#222" stroke-width="0.8" />
<line x1="260.00" y1="259.10" x2="362.00" y2="259.10" stroke="#222" stroke-width="0.8" />
<line x1="257.60" y1="192.90" x2="260.00" y2="192.90" stroke="#222" stroke-width="0.7" />
<text x="257.40" y="195.33" font-size="6.8" text-anchor="end" font-weight="normal" fill="#111" stroke="#111" >35</text>
<line x1="257.60" y1="202.30" x2="260.00" y2="202.30" stroke="#222" stroke-width="0.7" />
<text x="257.40" y="204.73" font-size="6.8" text-anchor="end" font-weight="normal" fill="#111" stroke="#111" >30</text>
<line x1="257.60" y1="211.70" x2="260.00" y2="211.70" stroke="#222" stroke-width="0.7" />
<text x="257.40" y="214.13" font-size="6.8" text-anchor="end" font-weight="normal" fill="#111" stroke="#111" >25</text>
<line x1="257.60" y1="221.10" x2="260.00" y2="221.10" stroke="#222" stroke-width="0.7" />
<text x="257.40" y="223.53" font-size="6.8" text-anchor="end" font-weight="normal" fill="#111" stroke="#111" >20</text>
<line x1="257.60" y1="230.50" x2="260.00" y2="230.50" stroke="#222" stroke-width="0.7" />
<text x="257.40" y="232.93" font-size="6.8" text-anchor="end" font-weight="normal" fill="#111" stroke="#111" >15</text>
<line x1="257.60" y1="239.90" x2="260.00" y2="239.90" stroke="#222" stroke-width="0.7" />
<text x="257.40" y="242.33" font-size="6.8" text-anchor="end" font-weight="normal" fill="#111" stroke="#111" >10</text>
<line x1="257.60" y1="249.50" x2="260.00" y2="249.50" stroke="#222" stroke-width="0.7" />
<text x="257.40" y="251.93" font-size="6.8" text-anchor="end" font-weight="normal" fill="#111" stroke="#111" >5</text>
<line x1="257.60" y1="259.10" x2="260.00" y2="259.10" stroke="#222" stroke-width="0.7" />
<text x="257.40" y="261.53" font-size="6.8" text-anchor="end" font-weight="normal" fill="#111" stroke="#111" >0</text>
<rect x="276.82" y="258.60" width="3.50" height="0.50" fill="#fff" stroke="#888" stroke-width="0.5" />
<rect x="280.72" y="254.10" width="3.50" height="5.00" fill="#000" stroke="#000" stroke-width="0.5" />
<rect x="284.62" y="258.20" width="3.50" height="0.90" fill="#8a8a8a" stroke="#6a6a6a" stroke-width="0.5" />
<rect x="291.19" y="258.30" width="3.50" height="0.80" fill="#fff" stroke="#888" stroke-width="0.5" />
<rect x="295.09" y="247.50" width="3.50" height="11.60" fill="#000" stroke="#000" stroke-width="0.5" />
<rect x="298.99" y="256.10" width="3.50" height="3.00" fill="#8a8a8a" stroke="#6a6a6a" stroke-width="0.5" />
<rect x="305.56" y="256.10" width="3.50" height="3.00" fill="#fff" stroke="#888" stroke-width="0.5" />
<rect x="309.46" y="240.70" width="3.50" height="18.40" fill="#000" stroke="#000" stroke-width="0.5" />
<rect x="313.36" y="244.50" width="3.50" height="14.60" fill="#8a8a8a" stroke="#6a6a6a" stroke-width="0.5" />
<rect x="319.93" y="255.50" width="3.50" height="3.60" fill="#fff" stroke="#888" stroke-width="0.5" />
<rect x="323.83" y="235.10" width="3.50" height="24.00" fill="#000" stroke="#000" stroke-width="0.5" />
<line x1="325.58" y1="233.10" x2="325.58" y2="235.10" stroke="#333" stroke-width="0.6" />
<line x1="324.38" y1="233.10" x2="326.78" y2="233.10" stroke="#333" stroke-width="0.6" />
<rect x="327.73" y="239.10" width="3.50" height="20.00" fill="#8a8a8a" stroke="#6a6a6a" stroke-width="0.5" />
<rect x="334.30" y="256.10" width="3.50" height="3.00" fill="#fff" stroke="#888" stroke-width="0.5" />
<line x1="336.05" y1="242.10" x2="336.05" y2="256.10" stroke="#333" stroke-width="0.6" />
<line x1="334.85" y1="242.10" x2="337.25" y2="242.10" stroke="#333" stroke-width="0.6" />
<rect x="338.20" y="249.10" width="3.50" height="10.00" fill="#000" stroke="#000" stroke-width="0.5" />
<rect x="342.10" y="243.70" width="3.50" height="15.40" fill="#8a8a8a" stroke="#6a6a6a" stroke-width="0.5" />
<line x1="343.85" y1="241.50" x2="343.85" y2="243.70" stroke="#333" stroke-width="0.6" />
<line x1="342.65" y1="241.50" x2="345.05" y2="241.50" stroke="#333" stroke-width="0.6" />
<rect x="348.67" y="240.10" width="3.50" height="19.00" fill="#fff" stroke="#888" stroke-width="0.5" />
<rect x="352.57" y="220.70" width="3.50" height="38.40" fill="#000" stroke="#000" stroke-width="0.5" />
<rect x="356.47" y="194.60" width="3.50" height="64.50" fill="#8a8a8a" stroke="#6a6a6a" stroke-width="0.5" />
<line x1="268.10" y1="259.10" x2="268.10" y2="260.90" stroke="#222" stroke-width="0.7" />
<text x="268.10" y="268.25" font-size="7.4" text-anchor="middle" font-weight="normal" fill="#111" stroke="#111" >Mo</text>
<line x1="282.47" y1="259.10" x2="282.47" y2="260.90" stroke="#222" stroke-width="0.7" />
<text x="282.47" y="268.25" font-size="7.4" text-anchor="middle" font-weight="normal" fill="#111" stroke="#111" >1</text>
<line x1="296.84" y1="259.10" x2="296.84" y2="260.90" stroke="#222" stroke-width="0.7" />
<text x="296.84" y="268.25" font-size="7.4" text-anchor="middle" font-weight="normal" fill="#111" stroke="#111" >2</text>
<line x1="311.21" y1="259.10" x2="311.21" y2="260.90" stroke="#222" stroke-width="0.7" />
<text x="311.21" y="268.25" font-size="7.4" text-anchor="middle" font-weight="normal" fill="#111" stroke="#111" >3</text>
<line x1="325.58" y1="259.10" x2="325.58" y2="260.90" stroke="#222" stroke-width="0.7" />
<text x="325.58" y="268.25" font-size="7.4" text-anchor="middle" font-weight="normal" fill="#111" stroke="#111" >4</text>
<line x1="339.95" y1="259.10" x2="339.95" y2="260.90" stroke="#222" stroke-width="0.7" />
<text x="339.95" y="268.25" font-size="7.4" text-anchor="middle" font-weight="normal" fill="#111" stroke="#111" >5</text>
<line x1="354.32" y1="259.10" x2="354.32" y2="260.90" stroke="#222" stroke-width="0.7" />
<text x="354.32" y="268.25" font-size="7.4" text-anchor="middle" font-weight="normal" fill="#111" stroke="#111" >MDC</text>
<text x="315.50" y="279.15" font-size="7.4" text-anchor="middle" font-weight="normal" fill="#111" stroke="#111" >time (day) / cell type</text>
<text x="306.60" y="204.83" font-size="6.8" text-anchor="middle" font-weight="bold" fill="#111" stroke="#111" >CCL22</text>
<text transform="translate(244.30,221.00) rotate(-90)" x="0" y="2.43" font-size="6.8" text-anchor="middle" font-weight="normal" fill="#111" stroke="#111" >normalized mRNA</text>
<line x1="403.60" y1="192.30" x2="403.60" y2="207.20" stroke="#222" stroke-width="0.8" />
<line x1="402.40" y1="207.20" x2="404.80" y2="207.20" stroke="#222" stroke-width="0.8" />
<line x1="403.60" y1="211.60" x2="403.60" y2="259.10" stroke="#222" stroke-width="0.8" />
<line x1="403.60" y1="259.10" x2="504.00" y2="259.10" stroke="#222" stroke-width="0.8" />
<line x1="401.20" y1="194.60" x2="403.60" y2="194.60" stroke="#222" stroke-width="0.7" />
<text x="400.60" y="196.71" font-size="5.9" text-anchor="end" font-weight="normal" fill="#111" stroke="#111" >1.15</text>
<line x1="401.20" y1="200.40" x2="403.60" y2="200.40" stroke="#222" stroke-width="0.7" />
<text x="400.60" y="202.51" font-size="5.9" text-anchor="end" font-weight="normal" fill="#111" stroke="#111" >0.90</text>
<line x1="401.20" y1="205.90" x2="403.60" y2="205.90" stroke="#222" stroke-width="0.7" />
<text x="400.60" y="208.01" font-size="5.9" text-anchor="end" font-weight="normal" fill="#111" stroke="#111" >0.65</text>
<line x1="401.20" y1="211.90" x2="403.60" y2="211.90" stroke="#222" stroke-width="0.7" />
<text x="400.60" y="214.01" font-size="5.9" text-anchor="end" font-weight="normal" fill="#111" stroke="#111" >0.3</text>
<line x1="401.20" y1="227.70" x2="403.60" y2="227.70" stroke="#222" stroke-width="0.7" />
<text x="400.60" y="229.81" font-size="5.9" text-anchor="end" font-weight="normal" fill="#111" stroke="#111" >0.2</text>
<line x1="401.20" y1="243.60" x2="403.60" y2="243.60" stroke="#222" stroke-width="0.7" />
<text x="400.60" y="245.71" font-size="5.9" text-anchor="end" font-weight="normal" fill="#111" stroke="#111" >0.1</text>
<line x1="401.20" y1="259.10" x2="403.60" y2="259.10" stroke="#222" stroke-width="0.7" />
<text x="400.60" y="261.21" font-size="5.9" text-anchor="end" font-weight="normal" fill="#111" stroke="#111" >0.0</text>
<rect x="405.35" y="234.60" width="3.50" height="24.50" fill="#fff" stroke="#888" stroke-width="0.5" />
<line x1="407.10" y1="232.50" x2="407.10" y2="234.60" stroke="#333" stroke-width="0.6" />
<line x1="405.90" y1="232.50" x2="408.30" y2="232.50" stroke="#333" stroke-width="0.6" />
<rect x="405.35" y="234.80" width="3.50" height="24.30" fill="#dcdcdc" stroke="none" stroke-width="0.6" />
<rect x="419.85" y="252.70" width="3.50" height="6.40" fill="#fff" stroke="#888" stroke-width="0.5" />
<line x1="421.60" y1="251.20" x2="421.60" y2="252.70" stroke="#333" stroke-width="0.6" />
<line x1="420.40" y1="251.20" x2="422.80" y2="251.20" stroke="#333" stroke-width="0.6" />
<rect x="423.75" y="227.80" width="3.50" height="31.30" fill="#000" stroke="#000" stroke-width="0.5" />
<line x1="425.50" y1="222.50" x2="425.50" y2="227.80" stroke="#333" stroke-width="0.6" />
<line x1="424.30" y1="222.50" x2="426.70" y2="222.50" stroke="#333" stroke-width="0.6" />
<rect x="427.65" y="248.00" width="3.50" height="11.10" fill="#8a8a8a" stroke="#6a6a6a" stroke-width="0.5" />
<rect x="434.35" y="257.60" width="3.50" height="1.50" fill="#fff" stroke="#888" stroke-width="0.5" />
<rect x="438.25" y="241.20" width="3.50" height="17.90" fill="#000" stroke="#000" stroke-width="0.5" />
<line x1="440.00" y1="239.50" x2="440.00" y2="241.20" stroke="#333" stroke-width="0.6" />
<line x1="438.80" y1="239.50" x2="441.20" y2="239.50" stroke="#333" stroke-width="0.6" />
<rect x="442.15" y="250.60" width="3.50" height="8.50" fill="#8a8a8a" stroke="#6a6a6a" stroke-width="0.5" />
<rect x="448.85" y="258.20" width="3.50" height="0.90" fill="#fff" stroke="#888" stroke-width="0.5" />
<rect x="452.75" y="244.00" width="3.50" height="15.10" fill="#000" stroke="#000" stroke-width="0.5" />
<line x1="454.50" y1="242.50" x2="454.50" y2="244.00" stroke="#333" stroke-width="0.6" />
<line x1="453.30" y1="242.50" x2="455.70" y2="242.50" stroke="#333" stroke-width="0.6" />
<rect x="456.65" y="250.30" width="3.50" height="8.80" fill="#8a8a8a" stroke="#6a6a6a" stroke-width="0.5" />
<rect x="463.35" y="258.20" width="3.50" height="0.90" fill="#fff" stroke="#888" stroke-width="0.5" />
<rect x="467.25" y="251.20" width="3.50" height="7.90" fill="#000" stroke="#000" stroke-width="0.5" />
<rect x="471.15" y="240.30" width="3.50" height="18.80" fill="#8a8a8a" stroke="#6a6a6a" stroke-width="0.5" />
<line x1="472.90" y1="234.00" x2="472.90" y2="240.30" stroke="#333" stroke-width="0.6" />
<line x1="471.70" y1="234.00" x2="474.10" y2="234.00" stroke="#333" stroke-width="0.6" />
<rect x="477.85" y="258.20" width="3.50" height="0.90" fill="#fff" stroke="#888" stroke-width="0.5" />
<rect x="481.75" y="253.70" width="3.50" height="5.40" fill="#000" stroke="#000" stroke-width="0.5" />
<rect x="485.65" y="252.20" width="3.50" height="6.90" fill="#8a8a8a" stroke="#6a6a6a" stroke-width="0.5" />
<rect x="492.35" y="258.20" width="3.50" height="0.90" fill="#fff" stroke="#888" stroke-width="0.5" />
<rect x="496.25" y="240.30" width="3.50" height="18.80" fill="#000" stroke="#000" stroke-width="0.5" />
<line x1="498.00" y1="238.50" x2="498.00" y2="240.30" stroke="#333" stroke-width="0.6" />
<line x1="496.80" y1="238.50" x2="499.20" y2="238.50" stroke="#333" stroke-width="0.6" />
<rect x="500.15" y="199.70" width="3.50" height="59.40" fill="#8a8a8a" stroke="#6a6a6a" stroke-width="0.5" />
<line x1="501.90" y1="196.60" x2="501.90" y2="199.70" stroke="#333" stroke-width="0.6" />
<line x1="500.70" y1="196.60" x2="503.10" y2="196.60" stroke="#333" stroke-width="0.6" />
<rect x="499.50" y="207.20" width="5.00" height="4.30" fill="#fff" stroke="none" stroke-width="0.6" />
<line x1="411.00" y1="259.10" x2="411.00" y2="260.90" stroke="#222" stroke-width="0.7" />
<text x="411.00" y="268.25" font-size="7.4" text-anchor="middle" font-weight="normal" fill="#111" stroke="#111" >Mo</text>
<line x1="425.50" y1="259.10" x2="425.50" y2="260.90" stroke="#222" stroke-width="0.7" />
<text x="425.50" y="268.25" font-size="7.4" text-anchor="middle" font-weight="normal" fill="#111" stroke="#111" >1</text>
<line x1="440.00" y1="259.10" x2="440.00" y2="260.90" stroke="#222" stroke-width="0.7" />
<text x="440.00" y="268.25" font-size="7.4" text-anchor="middle" font-weight="normal" fill="#111" stroke="#111" >2</text>
<line x1="454.50" y1="259.10" x2="454.50" y2="260.90" stroke="#222" stroke-width="0.7" />
<text x="454.50" y="268.25" font-size="7.4" text-anchor="middle" font-weight="normal" fill="#111" stroke="#111" >3</text>
<line x1="469.00" y1="259.10" x2="469.00" y2="260.90" stroke="#222" stroke-width="0.7" />
<text x="469.00" y="268.25" font-size="7.4" text-anchor="middle" font-weight="normal" fill="#111" stroke="#111" >4</text>
<line x1="483.50" y1="259.10" x2="483.50" y2="260.90" stroke="#222" stroke-width="0.7" />
<text x="483.50" y="268.25" font-size="7.4" text-anchor="middle" font-weight="normal" fill="#111" stroke="#111" >5</text>
<line x1="498.00" y1="259.10" x2="498.00" y2="260.90" stroke="#222" stroke-width="0.7" />
<text x="498.00" y="268.25" font-size="7.4" text-anchor="middle" font-weight="normal" fill="#111" stroke="#111" >MDC</text>
<text x="459.20" y="279.15" font-size="7.4" text-anchor="middle" font-weight="normal" fill="#111" stroke="#111" >time (day) / cell type</text>
<text x="453.80" y="204.83" font-size="6.8" text-anchor="middle" font-weight="bold" fill="#111" stroke="#111" >CD300LF</text>
<text transform="translate(381.20,221.50) rotate(-90)" x="0" y="2.43" font-size="6.8" text-anchor="middle" font-weight="normal" fill="#111" stroke="#111" >normalized mRNA</text>
<text x="-1.20" y="296.32" font-size="10.4" text-anchor="start" font-weight="bold" fill="#111" stroke="#111" >F</text>
<line x1="25.20" y1="302.80" x2="25.20" y2="359.60" stroke="#222" stroke-width="0.8" />
<line x1="22.80" y1="359.60" x2="25.20" y2="359.60" stroke="#222" stroke-width="0.7" />
<text x="20.60" y="362.03" font-size="6.8" text-anchor="end" font-weight="normal" fill="#111" stroke="#111" >0</text>
<line x1="22.80" y1="348.32" x2="25.20" y2="348.32" stroke="#222" stroke-width="0.7" />
<text x="20.60" y="350.75" font-size="6.8" text-anchor="end" font-weight="normal" fill="#111" stroke="#111" >0.5</text>
<line x1="22.80" y1="337.04" x2="25.20" y2="337.04" stroke="#222" stroke-width="0.7" />
<text x="20.60" y="339.47" font-size="6.8" text-anchor="end" font-weight="normal" fill="#111" stroke="#111" >1</text>
<line x1="22.80" y1="325.76" x2="25.20" y2="325.76" stroke="#222" stroke-width="0.7" />
<text x="20.60" y="328.19" font-size="6.8" text-anchor="end" font-weight="normal" fill="#111" stroke="#111" >1.5</text>
<line x1="22.80" y1="314.48" x2="25.20" y2="314.48" stroke="#222" stroke-width="0.7" />
<text x="20.60" y="316.91" font-size="6.8" text-anchor="end" font-weight="normal" fill="#111" stroke="#111" >2</text>
<line x1="22.80" y1="303.20" x2="25.20" y2="303.20" stroke="#222" stroke-width="0.7" />
<text x="20.60" y="305.63" font-size="6.8" text-anchor="end" font-weight="normal" fill="#111" stroke="#111" >2.5</text>
<line x1="25.20" y1="359.60" x2="138.40" y2="359.60" stroke="#222" stroke-width="0.8" />
<line x1="25.30" y1="359.60" x2="25.30" y2="361.60" stroke="#222" stroke-width="0.7" />
<line x1="31.26" y1="359.60" x2="31.26" y2="361.60" stroke="#222" stroke-width="0.7" />
<line x1="37.22" y1="359.60" x2="37.22" y2="361.60" stroke="#222" stroke-width="0.7" />
<line x1="43.18" y1="359.60" x2="43.18" y2="361.60" stroke="#222" stroke-width="0.7" />
<line x1="49.14" y1="359.60" x2="49.14" y2="361.60" stroke="#222" stroke-width="0.7" />
<line x1="55.10" y1="359.60" x2="55.10" y2="361.60" stroke="#222" stroke-width="0.7" />
<line x1="61.06" y1="359.60" x2="61.06" y2="361.60" stroke="#222" stroke-width="0.7" />
<line x1="67.02" y1="359.60" x2="67.02" y2="361.60" stroke="#222" stroke-width="0.7" />
<line x1="72.98" y1="359.60" x2="72.98" y2="361.60" stroke="#222" stroke-width="0.7" />
<line x1="78.94" y1="359.60" x2="78.94" y2="361.60" stroke="#222" stroke-width="0.7" />
<line x1="84.90" y1="359.60" x2="84.90" y2="361.60" stroke="#222" stroke-width="0.7" />
<line x1="90.86" y1="359.60" x2="90.86" y2="361.60" stroke="#222" stroke-width="0.7" />
<line x1="96.82" y1="359.60" x2="96.82" y2="361.60" stroke="#222" stroke-width="0.7" />
<line x1="102.78" y1="359.60" x2="102.78" y2="361.60" stroke="#222" stroke-width="0.7" />
<line x1="108.74" y1="359.60" x2="108.74" y2="361.60" stroke="#222" stroke-width="0.7" />
<line x1="114.70" y1="359.60" x2="114.70" y2="361.60" stroke="#222" stroke-width="0.7" />
<line x1="120.66" y1="359.60" x2="120.66" y2="361.60" stroke="#222" stroke-width="0.7" />
<line x1="126.62" y1="359.60" x2="126.62" y2="361.60" stroke="#222" stroke-width="0.7" />
<line x1="132.58" y1="359.60" x2="132.58" y2="361.60" stroke="#222" stroke-width="0.7" />
<rect x="32.45" y="356.70" width="3.70" height="2.90" fill="#000" stroke="none" stroke-width="0.6" />
<rect x="38.41" y="357.50" width="3.70" height="2.10" fill="#000" stroke="none" stroke-width="0.6" />
<rect x="44.37" y="358.30" width="3.70" height="1.30" fill="#000" stroke="none" stroke-width="0.6" />
<rect x="50.33" y="354.00" width="3.70" height="5.60" fill="#000" stroke="none" stroke-width="0.6" />
<rect x="56.29" y="358.60" width="3.70" height="1.00" fill="#000" stroke="none" stroke-width="0.6" />
<rect x="68.21" y="317.00" width="3.70" height="42.60" fill="#000" stroke="none" stroke-width="0.6" />
<rect x="74.17" y="317.00" width="3.70" height="42.60" fill="#000" stroke="none" stroke-width="0.6" />
<rect x="80.13" y="320.60" width="3.70" height="39.00" fill="#000" stroke="none" stroke-width="0.6" />
<line x1="81.98" y1="319.50" x2="81.98" y2="320.60" stroke="#444" stroke-width="0.6" />
<line x1="80.98" y1="319.50" x2="82.98" y2="319.50" stroke="#444" stroke-width="0.6" />
<rect x="86.09" y="309.80" width="3.70" height="49.80" fill="#000" stroke="none" stroke-width="0.6" />
<line x1="87.94" y1="306.30" x2="87.94" y2="309.80" stroke="#444" stroke-width="0.6" />
<line x1="86.94" y1="306.30" x2="88.94" y2="306.30" stroke="#444" stroke-width="0.6" />
<rect x="92.05" y="329.30" width="3.70" height="30.30" fill="#000" stroke="none" stroke-width="0.6" />
<rect x="103.97" y="319.40" width="3.70" height="40.20" fill="#000" stroke="none" stroke-width="0.6" />
<rect x="109.93" y="336.50" width="3.70" height="23.10" fill="#000" stroke="none" stroke-width="0.6" />
<line x1="111.78" y1="335.00" x2="111.78" y2="336.50" stroke="#444" stroke-width="0.6" />
<line x1="110.78" y1="335.00" x2="112.78" y2="335.00" stroke="#444" stroke-width="0.6" />
<rect x="115.89" y="347.60" width="3.70" height="12.00" fill="#000" stroke="none" stroke-width="0.6" />
<rect x="121.85" y="315.70" width="3.70" height="43.90" fill="#000" stroke="none" stroke-width="0.6" />
<line x1="123.70" y1="313.00" x2="123.70" y2="315.70" stroke="#444" stroke-width="0.6" />
<line x1="122.70" y1="313.00" x2="124.70" y2="313.00" stroke="#444" stroke-width="0.6" />
<rect x="127.81" y="334.60" width="3.70" height="25.00" fill="#000" stroke="none" stroke-width="0.6" />
<text x="34.30" y="371.76" font-size="6.6" text-anchor="middle" font-weight="normal" fill="#111" stroke="#111" >1</text>
<text x="40.26" y="371.76" font-size="6.6" text-anchor="middle" font-weight="normal" fill="#111" stroke="#111" >2</text>
<text x="46.22" y="371.76" font-size="6.6" text-anchor="middle" font-weight="normal" fill="#111" stroke="#111" >3</text>
<text x="52.18" y="371.76" font-size="6.6" text-anchor="middle" font-weight="normal" fill="#111" stroke="#111" >4</text>
<text x="58.14" y="371.76" font-size="6.6" text-anchor="middle" font-weight="normal" fill="#111" stroke="#111" >5</text>
<line x1="29.00" y1="374.30" x2="59.80" y2="374.30" stroke="#222" stroke-width="0.8" />
<text x="70.06" y="371.76" font-size="6.6" text-anchor="middle" font-weight="normal" fill="#111" stroke="#111" >1</text>
<text x="76.02" y="371.76" font-size="6.6" text-anchor="middle" font-weight="normal" fill="#111" stroke="#111" >2</text>
<text x="81.98" y="371.76" font-size="6.6" text-anchor="middle" font-weight="normal" fill="#111" stroke="#111" >3</text>
<text x="87.94" y="371.76" font-size="6.6" text-anchor="middle" font-weight="normal" fill="#111" stroke="#111" >4</text>
<text x="93.90" y="371.76" font-size="6.6" text-anchor="middle" font-weight="normal" fill="#111" stroke="#111" >5</text>
<line x1="64.76" y1="374.30" x2="95.56" y2="374.30" stroke="#222" stroke-width="0.8" />
<text x="105.82" y="371.76" font-size="6.6" text-anchor="middle" font-weight="normal" fill="#111" stroke="#111" >1</text>
<text x="111.78" y="371.76" font-size="6.6" text-anchor="middle" font-weight="normal" fill="#111" stroke="#111" >2</text>
<text x="117.74" y="371.76" font-size="6.6" text-anchor="middle" font-weight="normal" fill="#111" stroke="#111" >3</text>
<text x="123.70" y="371.76" font-size="6.6" text-anchor="middle" font-weight="normal" fill="#111" stroke="#111" >4</text>
<text x="129.66" y="371.76" font-size="6.6" text-anchor="middle" font-weight="normal" fill="#111" stroke="#111" >5</text>
<line x1="100.52" y1="374.30" x2="131.32" y2="374.30" stroke="#222" stroke-width="0.8" />
<text x="45.40" y="382.89" font-size="6.4" text-anchor="middle" font-weight="normal" fill="#111" stroke="#111" >vehicle</text>
<text x="81.60" y="382.89" font-size="6.4" text-anchor="middle" font-weight="normal" fill="#111" stroke="#111" >1,25-vitD</text>
<text x="117.50" y="382.89" font-size="6.4" text-anchor="middle" font-weight="normal" fill="#111" stroke="#111" >25-vitD</text>
<text transform="translate(3.40,327.40) rotate(-90)" x="0" y="2.54" font-size="7.1" text-anchor="middle" font-weight="bold" fill="#111" stroke="#111" >CCL22 (µg/ml)</text>
<text x="148.20" y="296.88" font-size="10.0" text-anchor="start" font-weight="normal" fill="#111" stroke="#111" style="stroke-width:0.4">G</text>
<text x="285.40" y="296.42" font-size="7.6" text-anchor="middle" font-weight="bold" fill="#111" stroke="#111" >5d IDC</text>
<text x="439.60" y="296.42" font-size="7.6" text-anchor="middle" font-weight="bold" fill="#111" stroke="#111" >6d MDC</text>
<path d="M212.8,309.40000000000003 Q212.8,305.8 216.8,305.8 L282.2,305.8 Q285.2,305.8 285.2,302.2 Q285.2,305.8 288.2,305.8 L358.9,305.8 Q362.9,305.8 362.9,309.40000000000003" fill="none" stroke="#333" stroke-width="0.8" />
<path d="M367.3,309.40000000000003 Q367.3,305.8 371.3,305.8 L436.6,305.8 Q439.6,305.8 439.6,302.2 Q439.6,305.8 442.6,305.8 L514.6,305.8 Q518.6,305.8 518.6,309.40000000000003" fill="none" stroke="#333" stroke-width="0.8" />
<text x="188.20" y="316.93" font-size="6.8" text-anchor="middle" font-weight="normal" fill="#111" stroke="#111" >Monocyte</text>
<text x="239.50" y="316.93" font-size="6.8" text-anchor="middle" font-weight="normal" fill="#111" stroke="#111" >vehicle</text>
<text x="291.10" y="316.93" font-size="6.8" text-anchor="middle" font-weight="normal" fill="#111" stroke="#111" >1,25-vitD</text>
<text x="339.90" y="316.93" font-size="6.8" text-anchor="middle" font-weight="normal" fill="#111" stroke="#111" >25-vitD</text>
<text x="393.50" y="316.93" font-size="6.8" text-anchor="middle" font-weight="normal" fill="#111" stroke="#111" >vehicle</text>
<text x="446.30" y="316.93" font-size="6.8" text-anchor="middle" font-weight="normal" fill="#111" stroke="#111" >1,25-vitD</text>
<text x="496.40" y="316.93" font-size="6.8" text-anchor="middle" font-weight="normal" fill="#111" stroke="#111" >25-vitD</text>
<text transform="translate(154.20,342.50) rotate(-90)" x="0" y="2.43" font-size="6.8" text-anchor="middle" font-weight="normal" fill="#111" stroke="#111" >counts</text>
<path d="M163.4,325.0 L207.9,325.0 L207.9,363.8" fill="none" stroke="#9a9a9a" stroke-width="0.7" />
<path d="M163.40,363.30 L163.89,363.30 L164.39,363.30 L164.88,363.30 L165.38,363.30 L165.87,363.30 L166.37,363.30 L166.86,363.30 L167.36,363.30 L167.85,363.30 L168.34,363.30 L168.84,363.30 L169.33,363.30 L169.83,363.30 L170.32,363.30 L170.82,363.30 L171.31,363.30 L171.81,363.30 L172.30,363.30 L172.79,363.30 L173.29,363.30 L173.78,363.30 L174.28,363.30 L174.77,363.30 L175.27,363.30 L175.76,363.30 L176.26,363.30 L176.75,363.30 L177.24,363.29 L177.74,363.28 L178.23,363.26 L178.73,363.22 L179.22,363.16 L179.72,363.04 L180.21,362.85 L180.71,362.53 L181.20,362.03 L181.69,361.27 L182.19,360.17 L182.68,358.63 L183.18,356.60 L183.67,354.03 L184.17,350.99 L184.66,347.63 L185.16,344.26 L185.65,341.33 L186.14,339.49 L186.64,339.99 L187.13,342.33 L187.63,345.49 L188.12,348.90 L188.62,352.16 L189.11,355.04 L189.61,357.41 L190.10,359.26 L190.59,360.62 L191.09,361.59 L191.58,362.24 L192.08,362.66 L192.57,362.93 L193.07,363.09 L193.56,363.19 L194.06,363.24 L194.55,363.27 L195.04,363.28 L195.54,363.29 L196.03,363.30 L196.53,363.30 L197.02,363.30 L197.52,363.30 L198.01,363.30 L198.51,363.30 L199.00,363.30 L199.49,363.30 L199.99,363.30 L200.48,363.30 L200.98,363.30 L201.47,363.30 L201.97,363.30 L202.46,363.30 L202.96,363.30 L203.45,363.30 L203.94,363.30 L204.44,363.30 L204.93,363.30 L205.43,363.30 L205.92,363.30 L206.42,363.30 L206.91,363.30 L207.41,363.30 L207.90,363.30 L207.9,363.8 L163.4,363.8 Z" fill="#d4d4d4" stroke="none"/>
<path d="M163.40,363.30 L163.89,363.30 L164.39,363.30 L164.88,363.30 L165.38,363.30 L165.87,363.30 L166.37,363.30 L166.86,363.30 L167.36,363.30 L167.85,363.30 L168.34,363.30 L168.84,363.30 L169.33,363.30 L169.83,363.30 L170.32,363.30 L170.82,363.30 L171.31,363.30 L171.81,363.30 L172.30,363.30 L172.79,363.30 L173.29,363.30 L173.78,363.30 L174.28,363.30 L174.77,363.30 L175.27,363.30 L175.76,363.30 L176.26,363.30 L176.75,363.30 L177.24,363.29 L177.74,363.28 L178.23,363.26 L178.73,363.22 L179.22,363.16 L179.72,363.04 L180.21,362.85 L180.71,362.53 L181.20,362.03 L181.69,361.27 L182.19,360.17 L182.68,358.63 L183.18,356.60 L183.67,354.03 L184.17,350.99 L184.66,347.63 L185.16,344.26 L185.65,341.33 L186.14,339.49 L186.64,339.99 L187.13,342.33 L187.63,345.49 L188.12,348.90 L188.62,352.16 L189.11,355.04 L189.61,357.41 L190.10,359.26 L190.59,360.62 L191.09,361.59 L191.58,362.24 L192.08,362.66 L192.57,362.93 L193.07,363.09 L193.56,363.19 L194.06,363.24 L194.55,363.27 L195.04,363.28 L195.54,363.29 L196.03,363.30 L196.53,363.30 L197.02,363.30 L197.52,363.30 L198.01,363.30 L198.51,363.30 L199.00,363.30 L199.49,363.30 L199.99,363.30 L200.48,363.30 L200.98,363.30 L201.47,363.30 L201.97,363.30 L202.46,363.30 L202.96,363.30 L203.45,363.30 L203.94,363.30 L204.44,363.30 L204.93,363.30 L205.43,363.30 L205.92,363.30 L206.42,363.30 L206.91,363.30 L207.41,363.30 L207.90,363.30" fill="none" stroke="#555" stroke-width="0.7"/>
<path d="M163.40,363.30 L163.89,363.30 L164.39,363.29 L164.88,363.29 L165.38,363.27 L165.87,363.24 L166.37,363.18 L166.86,363.08 L167.36,362.89 L167.85,362.56 L168.34,362.03 L168.84,361.20 L169.33,359.96 L169.83,358.17 L170.32,355.75 L170.82,352.65 L171.31,348.93 L171.81,344.83 L172.30,340.77 L172.79,337.40 L173.29,335.70 L173.78,337.05 L174.28,339.92 L174.77,343.52 L175.27,347.29 L175.76,350.87 L176.26,354.01 L176.75,356.60 L177.24,358.64 L177.74,360.16 L178.23,361.25 L178.73,362.01 L179.22,362.51 L179.72,362.83 L180.21,363.03 L180.71,363.15 L181.20,363.22 L181.69,363.26 L182.19,363.28 L182.68,363.29 L183.18,363.29 L183.67,363.30 L184.17,363.30 L184.66,363.30 L185.16,363.30 L185.65,363.30 L186.14,363.30 L186.64,363.30 L187.13,363.30 L187.63,363.30 L188.12,363.30 L188.62,363.30 L189.11,363.30 L189.61,363.30 L190.10,363.30 L190.59,363.30 L191.09,363.30 L191.58,363.30 L192.08,363.30 L192.57,363.30 L193.07,363.30 L193.56,363.30 L194.06,363.30 L194.55,363.30 L195.04,363.30 L195.54,363.30 L196.03,363.30 L196.53,363.30 L197.02,363.30 L197.52,363.30 L198.01,363.30 L198.51,363.30 L199.00,363.30 L199.49,363.30 L199.99,363.30 L200.48,363.30 L200.98,363.30 L201.47,363.30 L201.97,363.30 L202.46,363.30 L202.96,363.30 L203.45,363.30 L203.94,363.30 L204.44,363.30 L204.93,363.30 L205.43,363.30 L205.92,363.30 L206.42,363.30 L206.91,363.30 L207.41,363.30 L207.90,363.30" fill="none" stroke="#666" stroke-width="0.65"/>
<line x1="163.40" y1="325.00" x2="163.40" y2="363.80" stroke="#555" stroke-width="0.7" />
<line x1="163.40" y1="363.80" x2="207.90" y2="363.80" stroke="#222" stroke-width="0.9" />
<text x="160.60" y="327.72" font-size="3.4" text-anchor="middle" font-weight="normal" fill="#666" stroke="#666" >0</text>
<line x1="162.40" y1="326.50" x2="163.40" y2="326.50" stroke="#666" stroke-width="0.4" />
<text x="160.60" y="337.04" font-size="3.4" text-anchor="middle" font-weight="normal" fill="#666" stroke="#666" >0</text>
<line x1="162.40" y1="335.82" x2="163.40" y2="335.82" stroke="#666" stroke-width="0.4" />
<text x="160.60" y="346.37" font-size="3.4" text-anchor="middle" font-weight="normal" fill="#666" stroke="#666" >0</text>
<line x1="162.40" y1="345.15" x2="163.40" y2="345.15" stroke="#666" stroke-width="0.4" />
<text x="160.60" y="355.69" font-size="3.4" text-anchor="middle" font-weight="normal" fill="#666" stroke="#666" >0</text>
<line x1="162.40" y1="354.48" x2="163.40" y2="354.48" stroke="#666" stroke-width="0.4" />
<text x="160.60" y="365.02" font-size="3.4" text-anchor="middle" font-weight="normal" fill="#666" stroke="#666" >0</text>
<line x1="162.40" y1="363.80" x2="163.40" y2="363.80" stroke="#666" stroke-width="0.4" />
<line x1="164.90" y1="363.80" x2="164.90" y2="365.00" stroke="#666" stroke-width="0.4" />
<text x="164.90" y="368.07" font-size="3.0" text-anchor="middle" font-weight="normal" fill="#666" stroke="#666" >10</text>
<line x1="175.53" y1="363.80" x2="175.53" y2="365.00" stroke="#666" stroke-width="0.4" />
<text x="175.53" y="368.07" font-size="3.0" text-anchor="middle" font-weight="normal" fill="#666" stroke="#666" >10</text>
<line x1="186.15" y1="363.80" x2="186.15" y2="365.00" stroke="#666" stroke-width="0.4" />
<text x="186.15" y="368.07" font-size="3.0" text-anchor="middle" font-weight="normal" fill="#666" stroke="#666" >10</text>
<line x1="196.78" y1="363.80" x2="196.78" y2="365.00" stroke="#666" stroke-width="0.4" />
<text x="196.78" y="368.07" font-size="3.0" text-anchor="middle" font-weight="normal" fill="#666" stroke="#666" >10</text>
<line x1="207.40" y1="363.80" x2="207.40" y2="365.00" stroke="#666" stroke-width="0.4" />
<text x="207.40" y="368.07" font-size="3.0" text-anchor="middle" font-weight="normal" fill="#666" stroke="#666" >10</text>
<text x="185.65" y="371.33" font-size="2.6" text-anchor="middle" font-weight="normal" fill="#777" stroke="#777" >FL1-Height</text>
<path d="M215.0,325.0 L259.5,325.0 L259.5,363.8" fill="none" stroke="#9a9a9a" stroke-width="0.7" />
<path d="M215.00,363.30 L215.49,363.30 L215.99,363.30 L216.48,363.30 L216.98,363.30 L217.47,363.30 L217.97,363.30 L218.46,363.30 L218.96,363.30 L219.45,363.30 L219.94,363.30 L220.44,363.30 L220.93,363.30 L221.43,363.30 L221.92,363.30 L222.42,363.29 L222.91,363.27 L223.41,363.23 L223.90,363.14 L224.39,362.97 L224.89,362.62 L225.38,361.97 L225.88,360.85 L226.37,359.02 L226.87,356.27 L227.36,352.42 L227.86,347.55 L228.35,342.05 L228.84,336.81 L229.34,333.28 L229.83,333.07 L230.33,333.95 L230.82,335.46 L231.32,337.43 L231.81,339.67 L232.31,342.00 L232.80,344.30 L233.29,346.47 L233.79,348.46 L234.28,350.24 L234.78,351.81 L235.27,353.19 L235.77,354.39 L236.26,355.43 L236.76,356.33 L237.25,357.11 L237.74,357.79 L238.24,358.37 L238.73,358.88 L239.23,359.33 L239.72,359.72 L240.22,360.06 L240.71,360.36 L241.21,360.62 L241.70,360.86 L242.19,361.06 L242.69,361.25 L243.18,361.41 L243.68,361.56 L244.17,361.70 L244.67,361.82 L245.16,361.92 L245.66,362.02 L246.15,362.11 L246.64,362.19 L247.14,362.26 L247.63,362.33 L248.13,362.39 L248.62,362.45 L249.12,362.50 L249.61,362.55 L250.11,362.59 L250.60,362.63 L251.09,362.67 L251.59,362.70 L252.08,362.73 L252.58,362.76 L253.07,362.79 L253.57,362.82 L254.06,362.84 L254.56,362.86 L255.05,362.88 L255.54,362.90 L256.04,362.92 L256.53,362.94 L257.03,362.95 L257.52,362.97 L258.02,362.98 L258.51,363.00 L259.01,363.01 L259.50,363.02 L259.5,363.8 L215.0,363.8 Z" fill="#d4d4d4" stroke="none"/>
<path d="M215.00,363.30 L215.49,363.30 L215.99,363.30 L216.48,363.30 L216.98,363.30 L217.47,363.30 L217.97,363.30 L218.46,363.30 L218.96,363.30 L219.45,363.30 L219.94,363.30 L220.44,363.30 L220.93,363.30 L221.43,363.30 L221.92,363.30 L222.42,363.29 L222.91,363.27 L223.41,363.23 L223.90,363.14 L224.39,362.97 L224.89,362.62 L225.38,361.97 L225.88,360.85 L226.37,359.02 L226.87,356.27 L227.36,352.42 L227.86,347.55 L228.35,342.05 L228.84,336.81 L229.34,333.28 L229.83,333.07 L230.33,333.95 L230.82,335.46 L231.32,337.43 L231.81,339.67 L232.31,342.00 L232.80,344.30 L233.29,346.47 L233.79,348.46 L234.28,350.24 L234.78,351.81 L235.27,353.19 L235.77,354.39 L236.26,355.43 L236.76,356.33 L237.25,357.11 L237.74,357.79 L238.24,358.37 L238.73,358.88 L239.23,359.33 L239.72,359.72 L240.22,360.06 L240.71,360.36 L241.21,360.62 L241.70,360.86 L242.19,361.06 L242.69,361.25 L243.18,361.41 L243.68,361.56 L244.17,361.70 L244.67,361.82 L245.16,361.92 L245.66,362.02 L246.15,362.11 L246.64,362.19 L247.14,362.26 L247.63,362.33 L248.13,362.39 L248.62,362.45 L249.12,362.50 L249.61,362.55 L250.11,362.59 L250.60,362.63 L251.09,362.67 L251.59,362.70 L252.08,362.73 L252.58,362.76 L253.07,362.79 L253.57,362.82 L254.06,362.84 L254.56,362.86 L255.05,362.88 L255.54,362.90 L256.04,362.92 L256.53,362.94 L257.03,362.95 L257.52,362.97 L258.02,362.98 L258.51,363.00 L259.01,363.01 L259.50,363.02" fill="none" stroke="#555" stroke-width="0.7"/>
<line x1="215.00" y1="325.00" x2="215.00" y2="363.80" stroke="#555" stroke-width="0.7" />
<line x1="215.00" y1="363.80" x2="259.50" y2="363.80" stroke="#222" stroke-width="0.9" />
<text x="212.20" y="327.72" font-size="3.4" text-anchor="middle" font-weight="normal" fill="#666" stroke="#666" >0</text>
<line x1="214.00" y1="326.50" x2="215.00" y2="326.50" stroke="#666" stroke-width="0.4" />
<text x="212.20" y="337.04" font-size="3.4" text-anchor="middle" font-weight="normal" fill="#666" stroke="#666" >0</text>
<line x1="214.00" y1="335.82" x2="215.00" y2="335.82" stroke="#666" stroke-width="0.4" />
<text x="212.20" y="346.37" font-size="3.4" text-anchor="middle" font-weight="normal" fill="#666" stroke="#666" >0</text>
<line x1="214.00" y1="345.15" x2="215.00" y2="345.15" stroke="#666" stroke-width="0.4" />
<text x="212.20" y="355.69" font-size="3.4" text-anchor="middle" font-weight="normal" fill="#666" stroke="#666" >0</text>
<line x1="214.00" y1="354.48" x2="215.00" y2="354.48" stroke="#666" stroke-width="0.4" />
<text x="212.20" y="365.02" font-size="3.4" text-anchor="middle" font-weight="normal" fill="#666" stroke="#666" >0</text>
<line x1="214.00" y1="363.80" x2="215.00" y2="363.80" stroke="#666" stroke-width="0.4" />
<line x1="216.50" y1="363.80" x2="216.50" y2="365.00" stroke="#666" stroke-width="0.4" />
<text x="216.50" y="368.07" font-size="3.0" text-anchor="middle" font-weight="normal" fill="#666" stroke="#666" >10</text>
<line x1="227.12" y1="363.80" x2="227.12" y2="365.00" stroke="#666" stroke-width="0.4" />
<text x="227.12" y="368.07" font-size="3.0" text-anchor="middle" font-weight="normal" fill="#666" stroke="#666" >10</text>
<line x1="237.75" y1="363.80" x2="237.75" y2="365.00" stroke="#666" stroke-width="0.4" />
<text x="237.75" y="368.07" font-size="3.0" text-anchor="middle" font-weight="normal" fill="#666" stroke="#666" >10</text>
<line x1="248.38" y1="363.80" x2="248.38" y2="365.00" stroke="#666" stroke-width="0.4" />
<text x="248.38" y="368.07" font-size="3.0" text-anchor="middle" font-weight="normal" fill="#666" stroke="#666" >10</text>
<line x1="259.00" y1="363.80" x2="259.00" y2="365.00" stroke="#666" stroke-width="0.4" />
<text x="259.00" y="368.07" font-size="3.0" text-anchor="middle" font-weight="normal" fill="#666" stroke="#666" >10</text>
<text x="237.25" y="371.33" font-size="2.6" text-anchor="middle" font-weight="normal" fill="#777" stroke="#777" >FL1-Height</text>
<path d="M266.6,325.0 L311.1,325.0 L311.1,363.8" fill="none" stroke="#9a9a9a" stroke-width="0.7" />
<path d="M266.60,363.30 L267.09,363.30 L267.59,363.30 L268.08,363.30 L268.58,363.30 L269.07,363.30 L269.57,363.30 L270.06,363.30 L270.56,363.30 L271.05,363.30 L271.54,363.30 L272.04,363.30 L272.53,363.30 L273.03,363.30 L273.52,363.30 L274.02,363.30 L274.51,363.30 L275.01,363.30 L275.50,363.30 L275.99,363.30 L276.49,363.30 L276.98,363.30 L277.48,363.30 L277.97,363.30 L278.47,363.29 L278.96,363.29 L279.46,363.28 L279.95,363.27 L280.44,363.24 L280.94,363.20 L281.43,363.13 L281.93,363.03 L282.42,362.87 L282.92,362.64 L283.41,362.30 L283.91,361.81 L284.40,361.13 L284.89,360.22 L285.39,359.02 L285.88,357.50 L286.38,355.64 L286.87,353.45 L287.37,350.96 L287.86,348.28 L288.36,345.58 L288.85,343.09 L289.34,341.10 L289.84,340.03 L290.33,340.55 L290.83,341.94 L291.32,343.82 L291.82,346.00 L292.31,348.29 L292.81,350.56 L293.30,352.71 L293.79,354.67 L294.29,356.40 L294.78,357.89 L295.28,359.13 L295.77,360.14 L296.27,360.94 L296.76,361.57 L297.26,362.05 L297.75,362.42 L298.24,362.68 L298.74,362.87 L299.23,363.01 L299.73,363.11 L300.22,363.17 L300.72,363.22 L301.21,363.25 L301.71,363.27 L302.20,363.28 L302.69,363.29 L303.19,363.29 L303.68,363.30 L304.18,363.30 L304.67,363.30 L305.17,363.30 L305.66,363.30 L306.16,363.30 L306.65,363.30 L307.14,363.30 L307.64,363.30 L308.13,363.30 L308.63,363.30 L309.12,363.30 L309.62,363.30 L310.11,363.30 L310.61,363.30 L311.10,363.30 L311.1,363.8 L266.6,363.8 Z" fill="#d4d4d4" stroke="none"/>
<path d="M266.60,363.30 L267.09,363.30 L267.59,363.30 L268.08,363.30 L268.58,363.30 L269.07,363.30 L269.57,363.30 L270.06,363.30 L270.56,363.30 L271.05,363.30 L271.54,363.30 L272.04,363.30 L272.53,363.30 L273.03,363.30 L273.52,363.30 L274.02,363.30 L274.51,363.30 L275.01,363.30 L275.50,363.30 L275.99,363.30 L276.49,363.30 L276.98,363.30 L277.48,363.30 L277.97,363.30 L278.47,363.29 L278.96,363.29 L279.46,363.28 L279.95,363.27 L280.44,363.24 L280.94,363.20 L281.43,363.13 L281.93,363.03 L282.42,362.87 L282.92,362.64 L283.41,362.30 L283.91,361.81 L284.40,361.13 L284.89,360.22 L285.39,359.02 L285.88,357.50 L286.38,355.64 L286.87,353.45 L287.37,350.96 L287.86,348.28 L288.36,345.58 L288.85,343.09 L289.34,341.10 L289.84,340.03 L290.33,340.55 L290.83,341.94 L291.32,343.82 L291.82,346.00 L292.31,348.29 L292.81,350.56 L293.30,352.71 L293.79,354.67 L294.29,356.40 L294.78,357.89 L295.28,359.13 L295.77,360.14 L296.27,360.94 L296.76,361.57 L297.26,362.05 L297.75,362.42 L298.24,362.68 L298.74,362.87 L299.23,363.01 L299.73,363.11 L300.22,363.17 L300.72,363.22 L301.21,363.25 L301.71,363.27 L302.20,363.28 L302.69,363.29 L303.19,363.29 L303.68,363.30 L304.18,363.30 L304.67,363.30 L305.17,363.30 L305.66,363.30 L306.16,363.30 L306.65,363.30 L307.14,363.30 L307.64,363.30 L308.13,363.30 L308.63,363.30 L309.12,363.30 L309.62,363.30 L310.11,363.30 L310.61,363.30 L311.10,363.30" fill="none" stroke="#555" stroke-width="0.7"/>
<path d="M266.60,363.30 L267.09,363.30 L267.59,363.30 L268.08,363.30 L268.58,363.30 L269.07,363.30 L269.57,363.30 L270.06,363.30 L270.56,363.30 L271.05,363.30 L271.54,363.30 L272.04,363.30 L272.53,363.30 L273.03,363.30 L273.52,363.30 L274.02,363.30 L274.51,363.29 L275.01,363.28 L275.50,363.27 L275.99,363.23 L276.49,363.17 L276.98,363.05 L277.48,362.83 L277.97,362.47 L278.47,361.87 L278.96,360.94 L279.46,359.54 L279.95,357.55 L280.44,354.85 L280.94,351.40 L281.43,347.28 L281.93,342.75 L282.42,338.29 L282.92,334.64 L283.41,332.90 L283.91,334.50 L284.40,337.72 L284.89,341.70 L285.39,345.85 L285.88,349.77 L286.38,353.21 L286.87,356.04 L287.37,358.25 L287.86,359.91 L288.36,361.09 L288.85,361.90 L289.34,362.45 L289.84,362.79 L290.33,363.01 L290.83,363.13 L291.32,363.21 L291.82,363.25 L292.31,363.28 L292.81,363.29 L293.30,363.29 L293.79,363.30 L294.29,363.30 L294.78,363.30 L295.28,363.30 L295.77,363.30 L296.27,363.30 L296.76,363.30 L297.26,363.30 L297.75,363.30 L298.24,363.30 L298.74,363.30 L299.23,363.30 L299.73,363.30 L300.22,363.30 L300.72,363.30 L301.21,363.30 L301.71,363.30 L302.20,363.30 L302.69,363.30 L303.19,363.30 L303.68,363.30 L304.18,363.30 L304.67,363.30 L305.17,363.30 L305.66,363.30 L306.16,363.30 L306.65,363.30 L307.14,363.30 L307.64,363.30 L308.13,363.30 L308.63,363.30 L309.12,363.30 L309.62,363.30 L310.11,363.30 L310.61,363.30 L311.10,363.30" fill="none" stroke="#666" stroke-width="0.65"/>
<line x1="266.60" y1="325.00" x2="266.60" y2="363.80" stroke="#555" stroke-width="0.7" />
<line x1="266.60" y1="363.80" x2="311.10" y2="363.80" stroke="#222" stroke-width="0.9" />
<text x="263.80" y="327.72" font-size="3.4" text-anchor="middle" font-weight="normal" fill="#666" stroke="#666" >0</text>
<line x1="265.60" y1="326.50" x2="266.60" y2="326.50" stroke="#666" stroke-width="0.4" />
<text x="263.80" y="337.04" font-size="3.4" text-anchor="middle" font-weight="normal" fill="#666" stroke="#666" >0</text>
<line x1="265.60" y1="335.82" x2="266.60" y2="335.82" stroke="#666" stroke-width="0.4" />
<text x="263.80" y="346.37" font-size="3.4" text-anchor="middle" font-weight="normal" fill="#666" stroke="#666" >0</text>
<line x1="265.60" y1="345.15" x2="266.60" y2="345.15" stroke="#666" stroke-width="0.4" />
<text x="263.80" y="355.69" font-size="3.4" text-anchor="middle" font-weight="normal" fill="#666" stroke="#666" >0</text>
<line x1="265.60" y1="354.48" x2="266.60" y2="354.48" stroke="#666" stroke-width="0.4" />
<text x="263.80" y="365.02" font-size="3.4" text-anchor="middle" font-weight="normal" fill="#666" stroke="#666" >0</text>
<line x1="265.60" y1="363.80" x2="266.60" y2="363.80" stroke="#666" stroke-width="0.4" />
<line x1="268.10" y1="363.80" x2="268.10" y2="365.00" stroke="#666" stroke-width="0.4" />
<text x="268.10" y="368.07" font-size="3.0" text-anchor="middle" font-weight="normal" fill="#666" stroke="#666" >10</text>
<line x1="278.73" y1="363.80" x2="278.73" y2="365.00" stroke="#666" stroke-width="0.4" />
<text x="278.73" y="368.07" font-size="3.0" text-anchor="middle" font-weight="normal" fill="#666" stroke="#666" >10</text>
<line x1="289.35" y1="363.80" x2="289.35" y2="365.00" stroke="#666" stroke-width="0.4" />
<text x="289.35" y="368.07" font-size="3.0" text-anchor="middle" font-weight="normal" fill="#666" stroke="#666" >10</text>
<line x1="299.98" y1="363.80" x2="299.98" y2="365.00" stroke="#666" stroke-width="0.4" />
<text x="299.98" y="368.07" font-size="3.0" text-anchor="middle" font-weight="normal" fill="#666" stroke="#666" >10</text>
<line x1="310.60" y1="363.80" x2="310.60" y2="365.00" stroke="#666" stroke-width="0.4" />
<text x="310.60" y="368.07" font-size="3.0" text-anchor="middle" font-weight="normal" fill="#666" stroke="#666" >10</text>
<text x="288.85" y="371.33" font-size="2.6" text-anchor="middle" font-weight="normal" fill="#777" stroke="#777" >FL1-Height</text>
<path d="M318.20000000000005,325.0 L362.70000000000005,325.0 L362.70000000000005,363.8" fill="none" stroke="#9a9a9a" stroke-width="0.7" />
<path d="M318.20,363.30 L318.69,363.30 L319.19,363.30 L319.68,363.30 L320.18,363.30 L320.67,363.30 L321.17,363.30 L321.66,363.30 L322.16,363.30 L322.65,363.30 L323.14,363.30 L323.64,363.30 L324.13,363.30 L324.63,363.30 L325.12,363.30 L325.62,363.30 L326.11,363.30 L326.61,363.30 L327.10,363.30 L327.59,363.30 L328.09,363.30 L328.58,363.30 L329.08,363.30 L329.57,363.30 L330.07,363.30 L330.56,363.30 L331.06,363.30 L331.55,363.29 L332.04,363.28 L332.54,363.27 L333.03,363.25 L333.53,363.22 L334.02,363.16 L334.52,363.08 L335.01,362.94 L335.51,362.74 L336.00,362.45 L336.49,362.03 L336.99,361.45 L337.48,360.65 L337.98,359.61 L338.47,358.27 L338.97,356.62 L339.46,354.65 L339.96,352.40 L340.45,349.95 L340.94,347.43 L341.44,345.05 L341.93,343.07 L342.43,341.84 L342.92,342.01 L343.42,343.16 L343.91,344.82 L344.41,346.79 L344.90,348.91 L345.39,351.03 L345.89,353.05 L346.38,354.91 L346.88,356.57 L347.37,357.99 L347.87,359.19 L348.36,360.18 L348.86,360.96 L349.35,361.58 L349.84,362.06 L350.34,362.41 L350.83,362.68 L351.33,362.87 L351.82,363.01 L352.32,363.10 L352.81,363.17 L353.31,363.22 L353.80,363.25 L354.29,363.27 L354.79,363.28 L355.28,363.29 L355.78,363.29 L356.27,363.30 L356.77,363.30 L357.26,363.30 L357.76,363.30 L358.25,363.30 L358.74,363.30 L359.24,363.30 L359.73,363.30 L360.23,363.30 L360.72,363.30 L361.22,363.30 L361.71,363.30 L362.21,363.30 L362.70,363.30 L362.70000000000005,363.8 L318.20000000000005,363.8 Z" fill="#d4d4d4" stroke="none"/>
<path d="M318.20,363.30 L318.69,363.30 L319.19,363.30 L319.68,363.30 L320.18,363.30 L320.67,363.30 L321.17,363.30 L321.66,363.30 L322.16,363.30 L322.65,363.30 L323.14,363.30 L323.64,363.30 L324.13,363.30 L324.63,363.30 L325.12,363.30 L325.62,363.30 L326.11,363.30 L326.61,363.30 L327.10,363.30 L327.59,363.30 L328.09,363.30 L328.58,363.30 L329.08,363.30 L329.57,363.30 L330.07,363.30 L330.56,363.30 L331.06,363.30 L331.55,363.29 L332.04,363.28 L332.54,363.27 L333.03,363.25 L333.53,363.22 L334.02,363.16 L334.52,363.08 L335.01,362.94 L335.51,362.74 L336.00,362.45 L336.49,362.03 L336.99,361.45 L337.48,360.65 L337.98,359.61 L338.47,358.27 L338.97,356.62 L339.46,354.65 L339.96,352.40 L340.45,349.95 L340.94,347.43 L341.44,345.05 L341.93,343.07 L342.43,341.84 L342.92,342.01 L343.42,343.16 L343.91,344.82 L344.41,346.79 L344.90,348.91 L345.39,351.03 L345.89,353.05 L346.38,354.91 L346.88,356.57 L347.37,357.99 L347.87,359.19 L348.36,360.18 L348.86,360.96 L349.35,361.58 L349.84,362.06 L350.34,362.41 L350.83,362.68 L351.33,362.87 L351.82,363.01 L352.32,363.10 L352.81,363.17 L353.31,363.22 L353.80,363.25 L354.29,363.27 L354.79,363.28 L355.28,363.29 L355.78,363.29 L356.27,363.30 L356.77,363.30 L357.26,363.30 L357.76,363.30 L358.25,363.30 L358.74,363.30 L359.24,363.30 L359.73,363.30 L360.23,363.30 L360.72,363.30 L361.22,363.30 L361.71,363.30 L362.21,363.30 L362.70,363.30" fill="none" stroke="#555" stroke-width="0.7"/>
<path d="M318.20,363.30 L318.69,363.30 L319.19,363.30 L319.68,363.30 L320.18,363.30 L320.67,363.30 L321.17,363.30 L321.66,363.30 L322.16,363.30 L322.65,363.30 L323.14,363.30 L323.64,363.30 L324.13,363.30 L324.63,363.30 L325.12,363.30 L325.62,363.30 L326.11,363.30 L326.61,363.30 L327.10,363.30 L327.59,363.29 L328.09,363.28 L328.58,363.27 L329.08,363.23 L329.57,363.17 L330.07,363.05 L330.56,362.84 L331.06,362.49 L331.55,361.92 L332.04,361.03 L332.54,359.71 L333.03,357.84 L333.53,355.32 L334.02,352.15 L334.52,348.41 L335.01,344.36 L335.51,340.47 L336.00,337.43 L336.49,336.38 L336.99,338.13 L337.48,341.14 L337.98,344.73 L338.47,348.41 L338.97,351.84 L339.46,354.80 L339.96,357.22 L340.45,359.10 L340.94,360.49 L341.44,361.48 L341.93,362.16 L342.43,362.60 L342.92,362.89 L343.42,363.06 L343.91,363.17 L344.41,363.23 L344.90,363.26 L345.39,363.28 L345.89,363.29 L346.38,363.30 L346.88,363.30 L347.37,363.30 L347.87,363.30 L348.36,363.30 L348.86,363.30 L349.35,363.30 L349.84,363.30 L350.34,363.30 L350.83,363.30 L351.33,363.30 L351.82,363.30 L352.32,363.30 L352.81,363.30 L353.31,363.30 L353.80,363.30 L354.29,363.30 L354.79,363.30 L355.28,363.30 L355.78,363.30 L356.27,363.30 L356.77,363.30 L357.26,363.30 L357.76,363.30 L358.25,363.30 L358.74,363.30 L359.24,363.30 L359.73,363.30 L360.23,363.30 L360.72,363.30 L361.22,363.30 L361.71,363.30 L362.21,363.30 L362.70,363.30" fill="none" stroke="#666" stroke-width="0.65"/>
<line x1="318.20" y1="325.00" x2="318.20" y2="363.80" stroke="#555" stroke-width="0.7" />
<line x1="318.20" y1="363.80" x2="362.70" y2="363.80" stroke="#222" stroke-width="0.9" />
<text x="315.40" y="327.72" font-size="3.4" text-anchor="middle" font-weight="normal" fill="#666" stroke="#666" >0</text>
<line x1="317.20" y1="326.50" x2="318.20" y2="326.50" stroke="#666" stroke-width="0.4" />
<text x="315.40" y="337.04" font-size="3.4" text-anchor="middle" font-weight="normal" fill="#666" stroke="#666" >0</text>
<line x1="317.20" y1="335.82" x2="318.20" y2="335.82" stroke="#666" stroke-width="0.4" />
<text x="315.40" y="346.37" font-size="3.4" text-anchor="middle" font-weight="normal" fill="#666" stroke="#666" >0</text>
<line x1="317.20" y1="345.15" x2="318.20" y2="345.15" stroke="#666" stroke-width="0.4" />
<text x="315.40" y="355.69" font-size="3.4" text-anchor="middle" font-weight="normal" fill="#666" stroke="#666" >0</text>
<line x1="317.20" y1="354.48" x2="318.20" y2="354.48" stroke="#666" stroke-width="0.4" />
<text x="315.40" y="365.02" font-size="3.4" text-anchor="middle" font-weight="normal" fill="#666" stroke="#666" >0</text>
<line x1="317.20" y1="363.80" x2="318.20" y2="363.80" stroke="#666" stroke-width="0.4" />
<line x1="319.70" y1="363.80" x2="319.70" y2="365.00" stroke="#666" stroke-width="0.4" />
<text x="319.70" y="368.07" font-size="3.0" text-anchor="middle" font-weight="normal" fill="#666" stroke="#666" >10</text>
<line x1="330.33" y1="363.80" x2="330.33" y2="365.00" stroke="#666" stroke-width="0.4" />
<text x="330.33" y="368.07" font-size="3.0" text-anchor="middle" font-weight="normal" fill="#666" stroke="#666" >10</text>
<line x1="340.95" y1="363.80" x2="340.95" y2="365.00" stroke="#666" stroke-width="0.4" />
<text x="340.95" y="368.07" font-size="3.0" text-anchor="middle" font-weight="normal" fill="#666" stroke="#666" >10</text>
<line x1="351.58" y1="363.80" x2="351.58" y2="365.00" stroke="#666" stroke-width="0.4" />
<text x="351.58" y="368.07" font-size="3.0" text-anchor="middle" font-weight="normal" fill="#666" stroke="#666" >10</text>
<line x1="362.20" y1="363.80" x2="362.20" y2="365.00" stroke="#666" stroke-width="0.4" />
<text x="362.20" y="368.07" font-size="3.0" text-anchor="middle" font-weight="normal" fill="#666" stroke="#666" >10</text>
<text x="340.45" y="371.33" font-size="2.6" text-anchor="middle" font-weight="normal" fill="#777" stroke="#777" >FL1-Height</text>
<path d="M369.8,325.0 L414.3,325.0 L414.3,363.8" fill="none" stroke="#9a9a9a" stroke-width="0.7" />
<path d="M369.80,363.30 L370.29,363.30 L370.79,363.30 L371.28,363.30 L371.78,363.30 L372.27,363.30 L372.77,363.30 L373.26,363.30 L373.76,363.30 L374.25,363.30 L374.74,363.30 L375.24,363.30 L375.73,363.30 L376.23,363.30 L376.72,363.30 L377.22,363.30 L377.71,363.30 L378.21,363.30 L378.70,363.30 L379.19,363.30 L379.69,363.30 L380.18,363.29 L380.68,363.28 L381.17,363.25 L381.67,363.19 L382.16,363.06 L382.66,362.80 L383.15,362.31 L383.64,361.44 L384.14,360.01 L384.63,357.80 L385.13,354.66 L385.62,350.55 L386.12,345.76 L386.61,340.94 L387.11,337.24 L387.60,336.39 L388.09,337.32 L388.59,339.11 L389.08,341.46 L389.58,344.03 L390.07,346.59 L390.57,348.96 L391.06,351.06 L391.56,352.88 L392.05,354.42 L392.54,355.71 L393.04,356.79 L393.53,357.69 L394.03,358.45 L394.52,359.08 L395.02,359.61 L395.51,360.06 L396.01,360.44 L396.50,360.77 L396.99,361.05 L397.49,361.28 L397.98,361.49 L398.48,361.67 L398.97,361.83 L399.47,361.96 L399.96,362.08 L400.46,362.19 L400.95,362.28 L401.44,362.37 L401.94,362.44 L402.43,362.51 L402.93,362.57 L403.42,362.62 L403.92,362.67 L404.41,362.72 L404.91,362.76 L405.40,362.79 L405.89,362.83 L406.39,362.86 L406.88,362.88 L407.38,362.91 L407.87,362.93 L408.37,362.95 L408.86,362.97 L409.36,362.99 L409.85,363.01 L410.34,363.02 L410.84,363.04 L411.33,363.05 L411.83,363.06 L412.32,363.08 L412.82,363.09 L413.31,363.10 L413.81,363.11 L414.30,363.12 L414.3,363.8 L369.8,363.8 Z" fill="#d4d4d4" stroke="none"/>
<path d="M369.80,363.30 L370.29,363.30 L370.79,363.30 L371.28,363.30 L371.78,363.30 L372.27,363.30 L372.77,363.30 L373.26,363.30 L373.76,363.30 L374.25,363.30 L374.74,363.30 L375.24,363.30 L375.73,363.30 L376.23,363.30 L376.72,363.30 L377.22,363.30 L377.71,363.30 L378.21,363.30 L378.70,363.30 L379.19,363.30 L379.69,363.30 L380.18,363.29 L380.68,363.28 L381.17,363.25 L381.67,363.19 L382.16,363.06 L382.66,362.80 L383.15,362.31 L383.64,361.44 L384.14,360.01 L384.63,357.80 L385.13,354.66 L385.62,350.55 L386.12,345.76 L386.61,340.94 L387.11,337.24 L387.60,336.39 L388.09,337.32 L388.59,339.11 L389.08,341.46 L389.58,344.03 L390.07,346.59 L390.57,348.96 L391.06,351.06 L391.56,352.88 L392.05,354.42 L392.54,355.71 L393.04,356.79 L393.53,357.69 L394.03,358.45 L394.52,359.08 L395.02,359.61 L395.51,360.06 L396.01,360.44 L396.50,360.77 L396.99,361.05 L397.49,361.28 L397.98,361.49 L398.48,361.67 L398.97,361.83 L399.47,361.96 L399.96,362.08 L400.46,362.19 L400.95,362.28 L401.44,362.37 L401.94,362.44 L402.43,362.51 L402.93,362.57 L403.42,362.62 L403.92,362.67 L404.41,362.72 L404.91,362.76 L405.40,362.79 L405.89,362.83 L406.39,362.86 L406.88,362.88 L407.38,362.91 L407.87,362.93 L408.37,362.95 L408.86,362.97 L409.36,362.99 L409.85,363.01 L410.34,363.02 L410.84,363.04 L411.33,363.05 L411.83,363.06 L412.32,363.08 L412.82,363.09 L413.31,363.10 L413.81,363.11 L414.30,363.12" fill="none" stroke="#555" stroke-width="0.7"/>
<line x1="369.80" y1="325.00" x2="369.80" y2="363.80" stroke="#555" stroke-width="0.7" />
<line x1="369.80" y1="363.80" x2="414.30" y2="363.80" stroke="#222" stroke-width="0.9" />
<text x="367.00" y="327.72" font-size="3.4" text-anchor="middle" font-weight="normal" fill="#666" stroke="#666" >0</text>
<line x1="368.80" y1="326.50" x2="369.80" y2="326.50" stroke="#666" stroke-width="0.4" />
<text x="367.00" y="337.04" font-size="3.4" text-anchor="middle" font-weight="normal" fill="#666" stroke="#666" >0</text>
<line x1="368.80" y1="335.82" x2="369.80" y2="335.82" stroke="#666" stroke-width="0.4" />
<text x="367.00" y="346.37" font-size="3.4" text-anchor="middle" font-weight="normal" fill="#666" stroke="#666" >0</text>
<line x1="368.80" y1="345.15" x2="369.80" y2="345.15" stroke="#666" stroke-width="0.4" />
<text x="367.00" y="355.69" font-size="3.4" text-anchor="middle" font-weight="normal" fill="#666" stroke="#666" >0</text>
<line x1="368.80" y1="354.48" x2="369.80" y2="354.48" stroke="#666" stroke-width="0.4" />
<text x="367.00" y="365.02" font-size="3.4" text-anchor="middle" font-weight="normal" fill="#666" stroke="#666" >0</text>
<line x1="368.80" y1="363.80" x2="369.80" y2="363.80" stroke="#666" stroke-width="0.4" />
<line x1="371.30" y1="363.80" x2="371.30" y2="365.00" stroke="#666" stroke-width="0.4" />
<text x="371.30" y="368.07" font-size="3.0" text-anchor="middle" font-weight="normal" fill="#666" stroke="#666" >10</text>
<line x1="381.93" y1="363.80" x2="381.93" y2="365.00" stroke="#666" stroke-width="0.4" />
<text x="381.93" y="368.07" font-size="3.0" text-anchor="middle" font-weight="normal" fill="#666" stroke="#666" >10</text>
<line x1="392.55" y1="363.80" x2="392.55" y2="365.00" stroke="#666" stroke-width="0.4" />
<text x="392.55" y="368.07" font-size="3.0" text-anchor="middle" font-weight="normal" fill="#666" stroke="#666" >10</text>
<line x1="403.18" y1="363.80" x2="403.18" y2="365.00" stroke="#666" stroke-width="0.4" />
<text x="403.18" y="368.07" font-size="3.0" text-anchor="middle" font-weight="normal" fill="#666" stroke="#666" >10</text>
<line x1="413.80" y1="363.80" x2="413.80" y2="365.00" stroke="#666" stroke-width="0.4" />
<text x="413.80" y="368.07" font-size="3.0" text-anchor="middle" font-weight="normal" fill="#666" stroke="#666" >10</text>
<text x="392.05" y="371.33" font-size="2.6" text-anchor="middle" font-weight="normal" fill="#777" stroke="#777" >FL1-Height</text>
<path d="M421.4,325.0 L465.9,325.0 L465.9,363.8" fill="none" stroke="#9a9a9a" stroke-width="0.7" />
<path d="M421.40,363.30 L421.89,363.30 L422.39,363.30 L422.88,363.30 L423.38,363.30 L423.87,363.30 L424.37,363.30 L424.86,363.30 L425.36,363.30 L425.85,363.30 L426.34,363.30 L426.84,363.30 L427.33,363.30 L427.83,363.30 L428.32,363.30 L428.82,363.30 L429.31,363.30 L429.81,363.30 L430.30,363.30 L430.79,363.30 L431.29,363.30 L431.78,363.30 L432.28,363.30 L432.77,363.30 L433.27,363.29 L433.76,363.29 L434.26,363.28 L434.75,363.26 L435.24,363.24 L435.74,363.21 L436.23,363.16 L436.73,363.08 L437.22,362.97 L437.72,362.81 L438.21,362.59 L438.71,362.28 L439.20,361.87 L439.69,361.33 L440.19,360.63 L440.68,359.74 L441.18,358.64 L441.67,357.33 L442.17,355.79 L442.66,354.06 L443.16,352.17 L443.65,350.19 L444.14,348.24 L444.64,346.45 L445.13,344.99 L445.63,344.10 L446.12,344.22 L446.62,345.03 L447.11,346.22 L447.61,347.67 L448.10,349.26 L448.59,350.91 L449.09,352.54 L449.58,354.11 L450.08,355.56 L450.57,356.88 L451.07,358.05 L451.56,359.06 L452.06,359.93 L452.55,360.65 L453.04,361.24 L453.54,361.72 L454.03,362.10 L454.53,362.41 L455.02,362.64 L455.52,362.82 L456.01,362.95 L456.51,363.05 L457.00,363.12 L457.49,363.18 L457.99,363.21 L458.48,363.24 L458.98,363.26 L459.47,363.27 L459.97,363.28 L460.46,363.29 L460.96,363.29 L461.45,363.30 L461.94,363.30 L462.44,363.30 L462.93,363.30 L463.43,363.30 L463.92,363.30 L464.42,363.30 L464.91,363.30 L465.41,363.30 L465.90,363.30 L465.9,363.8 L421.4,363.8 Z" fill="#d4d4d4" stroke="none"/>
<path d="M421.40,363.30 L421.89,363.30 L422.39,363.30 L422.88,363.30 L423.38,363.30 L423.87,363.30 L424.37,363.30 L424.86,363.30 L425.36,363.30 L425.85,363.30 L426.34,363.30 L426.84,363.30 L427.33,363.30 L427.83,363.30 L428.32,363.30 L428.82,363.30 L429.31,363.30 L429.81,363.30 L430.30,363.30 L430.79,363.30 L431.29,363.30 L431.78,363.30 L432.28,363.30 L432.77,363.30 L433.27,363.29 L433.76,363.29 L434.26,363.28 L434.75,363.26 L435.24,363.24 L435.74,363.21 L436.23,363.16 L436.73,363.08 L437.22,362.97 L437.72,362.81 L438.21,362.59 L438.71,362.28 L439.20,361.87 L439.69,361.33 L440.19,360.63 L440.68,359.74 L441.18,358.64 L441.67,357.33 L442.17,355.79 L442.66,354.06 L443.16,352.17 L443.65,350.19 L444.14,348.24 L444.64,346.45 L445.13,344.99 L445.63,344.10 L446.12,344.22 L446.62,345.03 L447.11,346.22 L447.61,347.67 L448.10,349.26 L448.59,350.91 L449.09,352.54 L449.58,354.11 L450.08,355.56 L450.57,356.88 L451.07,358.05 L451.56,359.06 L452.06,359.93 L452.55,360.65 L453.04,361.24 L453.54,361.72 L454.03,362.10 L454.53,362.41 L455.02,362.64 L455.52,362.82 L456.01,362.95 L456.51,363.05 L457.00,363.12 L457.49,363.18 L457.99,363.21 L458.48,363.24 L458.98,363.26 L459.47,363.27 L459.97,363.28 L460.46,363.29 L460.96,363.29 L461.45,363.30 L461.94,363.30 L462.44,363.30 L462.93,363.30 L463.43,363.30 L463.92,363.30 L464.42,363.30 L464.91,363.30 L465.41,363.30 L465.90,363.30" fill="none" stroke="#555" stroke-width="0.7"/>
<path d="M421.40,363.30 L421.89,363.30 L422.39,363.30 L422.88,363.30 L423.38,363.30 L423.87,363.30 L424.37,363.30 L424.86,363.30 L425.36,363.30 L425.85,363.30 L426.34,363.30 L426.84,363.30 L427.33,363.30 L427.83,363.30 L428.32,363.30 L428.82,363.29 L429.31,363.29 L429.81,363.27 L430.30,363.25 L430.79,363.20 L431.29,363.12 L431.78,362.97 L432.28,362.71 L432.77,362.30 L433.27,361.64 L433.76,360.65 L434.26,359.20 L434.75,357.18 L435.24,354.48 L435.74,351.08 L436.23,347.02 L436.73,342.52 L437.22,337.97 L437.72,333.97 L438.21,331.35 L438.71,331.67 L439.20,334.28 L439.69,337.96 L440.19,342.09 L440.68,346.22 L441.18,350.02 L441.67,353.32 L442.17,356.03 L442.66,358.17 L443.16,359.78 L443.65,360.96 L444.14,361.78 L444.64,362.34 L445.13,362.71 L445.63,362.95 L446.12,363.09 L446.62,363.18 L447.11,363.23 L447.61,363.26 L448.10,363.28 L448.59,363.29 L449.09,363.30 L449.58,363.30 L450.08,363.30 L450.57,363.30 L451.07,363.30 L451.56,363.30 L452.06,363.30 L452.55,363.30 L453.04,363.30 L453.54,363.30 L454.03,363.30 L454.53,363.30 L455.02,363.30 L455.52,363.30 L456.01,363.30 L456.51,363.30 L457.00,363.30 L457.49,363.30 L457.99,363.30 L458.48,363.30 L458.98,363.30 L459.47,363.30 L459.97,363.30 L460.46,363.30 L460.96,363.30 L461.45,363.30 L461.94,363.30 L462.44,363.30 L462.93,363.30 L463.43,363.30 L463.92,363.30 L464.42,363.30 L464.91,363.30 L465.41,363.30 L465.90,363.30" fill="none" stroke="#666" stroke-width="0.65"/>
<line x1="421.40" y1="325.00" x2="421.40" y2="363.80" stroke="#555" stroke-width="0.7" />
<line x1="421.40" y1="363.80" x2="465.90" y2="363.80" stroke="#222" stroke-width="0.9" />
<text x="418.60" y="327.72" font-size="3.4" text-anchor="middle" font-weight="normal" fill="#666" stroke="#666" >0</text>
<line x1="420.40" y1="326.50" x2="421.40" y2="326.50" stroke="#666" stroke-width="0.4" />
<text x="418.60" y="337.04" font-size="3.4" text-anchor="middle" font-weight="normal" fill="#666" stroke="#666" >0</text>
<line x1="420.40" y1="335.82" x2="421.40" y2="335.82" stroke="#666" stroke-width="0.4" />
<text x="418.60" y="346.37" font-size="3.4" text-anchor="middle" font-weight="normal" fill="#666" stroke="#666" >0</text>
<line x1="420.40" y1="345.15" x2="421.40" y2="345.15" stroke="#666" stroke-width="0.4" />
<text x="418.60" y="355.69" font-size="3.4" text-anchor="middle" font-weight="normal" fill="#666" stroke="#666" >0</text>
<line x1="420.40" y1="354.48" x2="421.40" y2="354.48" stroke="#666" stroke-width="0.4" />
<text x="418.60" y="365.02" font-size="3.4" text-anchor="middle" font-weight="normal" fill="#666" stroke="#666" >0</text>
<line x1="420.40" y1="363.80" x2="421.40" y2="363.80" stroke="#666" stroke-width="0.4" />
<line x1="422.90" y1="363.80" x2="422.90" y2="365.00" stroke="#666" stroke-width="0.4" />
<text x="422.90" y="368.07" font-size="3.0" text-anchor="middle" font-weight="normal" fill="#666" stroke="#666" >10</text>
<line x1="433.52" y1="363.80" x2="433.52" y2="365.00" stroke="#666" stroke-width="0.4" />
<text x="433.52" y="368.07" font-size="3.0" text-anchor="middle" font-weight="normal" fill="#666" stroke="#666" >10</text>
<line x1="444.15" y1="363.80" x2="444.15" y2="365.00" stroke="#666" stroke-width="0.4" />
<text x="444.15" y="368.07" font-size="3.0" text-anchor="middle" font-weight="normal" fill="#666" stroke="#666" >10</text>
<line x1="454.77" y1="363.80" x2="454.77" y2="365.00" stroke="#666" stroke-width="0.4" />
<text x="454.77" y="368.07" font-size="3.0" text-anchor="middle" font-weight="normal" fill="#666" stroke="#666" >10</text>
<line x1="465.40" y1="363.80" x2="465.40" y2="365.00" stroke="#666" stroke-width="0.4" />
<text x="465.40" y="368.07" font-size="3.0" text-anchor="middle" font-weight="normal" fill="#666" stroke="#666" >10</text>
<text x="443.65" y="371.33" font-size="2.6" text-anchor="middle" font-weight="normal" fill="#777" stroke="#777" >FL1-Height</text>
<path d="M473.0,325.0 L517.5,325.0 L517.5,363.8" fill="none" stroke="#9a9a9a" stroke-width="0.7" />
<path d="M473.00,363.30 L473.49,363.30 L473.99,363.30 L474.48,363.30 L474.98,363.30 L475.47,363.30 L475.97,363.30 L476.46,363.30 L476.96,363.30 L477.45,363.30 L477.94,363.30 L478.44,363.30 L478.93,363.30 L479.43,363.30 L479.92,363.30 L480.42,363.30 L480.91,363.30 L481.41,363.30 L481.90,363.30 L482.39,363.30 L482.89,363.30 L483.38,363.30 L483.88,363.30 L484.37,363.30 L484.87,363.30 L485.36,363.30 L485.86,363.30 L486.35,363.30 L486.84,363.30 L487.34,363.30 L487.83,363.30 L488.33,363.29 L488.82,363.29 L489.32,363.28 L489.81,363.27 L490.31,363.26 L490.80,363.24 L491.29,363.21 L491.79,363.16 L492.28,363.10 L492.78,363.01 L493.27,362.89 L493.77,362.73 L494.26,362.51 L494.76,362.23 L495.25,361.86 L495.74,361.39 L496.24,360.80 L496.73,360.08 L497.23,359.21 L497.72,358.19 L498.22,357.02 L498.71,355.70 L499.21,354.26 L499.70,352.74 L500.19,351.19 L500.69,349.69 L501.18,348.33 L501.68,347.22 L502.17,346.52 L502.67,346.54 L503.16,347.20 L503.66,348.22 L504.15,349.46 L504.64,350.85 L505.14,352.29 L505.63,353.72 L506.13,355.10 L506.62,356.39 L507.12,357.56 L507.61,358.59 L508.11,359.50 L508.60,360.27 L509.09,360.91 L509.59,361.44 L510.08,361.88 L510.58,362.22 L511.07,362.49 L511.57,362.70 L512.06,362.86 L512.56,362.98 L513.05,363.07 L513.54,363.14 L514.04,363.19 L514.53,363.22 L515.03,363.25 L515.52,363.26 L516.02,363.28 L516.51,363.28 L517.01,363.29 L517.50,363.29 L517.5,363.8 L473.0,363.8 Z" fill="#d4d4d4" stroke="none"/>
<path d="M473.00,363.30 L473.49,363.30 L473.99,363.30 L474.48,363.30 L474.98,363.30 L475.47,363.30 L475.97,363.30 L476.46,363.30 L476.96,363.30 L477.45,363.30 L477.94,363.30 L478.44,363.30 L478.93,363.30 L479.43,363.30 L479.92,363.30 L480.42,363.30 L480.91,363.30 L481.41,363.30 L481.90,363.30 L482.39,363.30 L482.89,363.30 L483.38,363.30 L483.88,363.30 L484.37,363.30 L484.87,363.30 L485.36,363.30 L485.86,363.30 L486.35,363.30 L486.84,363.30 L487.34,363.30 L487.83,363.30 L488.33,363.29 L488.82,363.29 L489.32,363.28 L489.81,363.27 L490.31,363.26 L490.80,363.24 L491.29,363.21 L491.79,363.16 L492.28,363.10 L492.78,363.01 L493.27,362.89 L493.77,362.73 L494.26,362.51 L494.76,362.23 L495.25,361.86 L495.74,361.39 L496.24,360.80 L496.73,360.08 L497.23,359.21 L497.72,358.19 L498.22,357.02 L498.71,355.70 L499.21,354.26 L499.70,352.74 L500.19,351.19 L500.69,349.69 L501.18,348.33 L501.68,347.22 L502.17,346.52 L502.67,346.54 L503.16,347.20 L503.66,348.22 L504.15,349.46 L504.64,350.85 L505.14,352.29 L505.63,353.72 L506.13,355.10 L506.62,356.39 L507.12,357.56 L507.61,358.59 L508.11,359.50 L508.60,360.27 L509.09,360.91 L509.59,361.44 L510.08,361.88 L510.58,362.22 L511.07,362.49 L511.57,362.70 L512.06,362.86 L512.56,362.98 L513.05,363.07 L513.54,363.14 L514.04,363.19 L514.53,363.22 L515.03,363.25 L515.52,363.26 L516.02,363.28 L516.51,363.28 L517.01,363.29 L517.50,363.29" fill="none" stroke="#555" stroke-width="0.7"/>
<path d="M473.00,363.30 L473.49,363.30 L473.99,363.30 L474.48,363.30 L474.98,363.30 L475.47,363.30 L475.97,363.30 L476.46,363.30 L476.96,363.30 L477.45,363.30 L477.94,363.30 L478.44,363.30 L478.93,363.30 L479.43,363.30 L479.92,363.30 L480.42,363.30 L480.91,363.30 L481.41,363.29 L481.90,363.28 L482.39,363.26 L482.89,363.21 L483.38,363.13 L483.88,362.98 L484.37,362.72 L484.87,362.30 L485.36,361.62 L485.86,360.58 L486.35,359.08 L486.84,356.99 L487.34,354.25 L487.83,350.89 L488.33,347.06 L488.82,343.10 L489.32,339.56 L489.81,337.21 L490.31,337.50 L490.80,339.84 L491.29,343.10 L491.79,346.70 L492.28,350.22 L492.78,353.39 L493.27,356.06 L493.77,358.20 L494.26,359.83 L494.76,361.01 L495.25,361.83 L495.74,362.39 L496.24,362.75 L496.73,362.98 L497.23,363.12 L497.72,363.20 L498.22,363.25 L498.71,363.27 L499.21,363.29 L499.70,363.29 L500.19,363.30 L500.69,363.30 L501.18,363.30 L501.68,363.30 L502.17,363.30 L502.67,363.30 L503.16,363.30 L503.66,363.30 L504.15,363.30 L504.64,363.30 L505.14,363.30 L505.63,363.30 L506.13,363.30 L506.62,363.30 L507.12,363.30 L507.61,363.30 L508.11,363.30 L508.60,363.30 L509.09,363.30 L509.59,363.30 L510.08,363.30 L510.58,363.30 L511.07,363.30 L511.57,363.30 L512.06,363.30 L512.56,363.30 L513.05,363.30 L513.54,363.30 L514.04,363.30 L514.53,363.30 L515.03,363.30 L515.52,363.30 L516.02,363.30 L516.51,363.30 L517.01,363.30 L517.50,363.30" fill="none" stroke="#666" stroke-width="0.65"/>
<line x1="473.00" y1="325.00" x2="473.00" y2="363.80" stroke="#555" stroke-width="0.7" />
<line x1="473.00" y1="363.80" x2="517.50" y2="363.80" stroke="#222" stroke-width="0.9" />
<text x="470.20" y="327.72" font-size="3.4" text-anchor="middle" font-weight="normal" fill="#666" stroke="#666" >0</text>
<line x1="472.00" y1="326.50" x2="473.00" y2="326.50" stroke="#666" stroke-width="0.4" />
<text x="470.20" y="337.04" font-size="3.4" text-anchor="middle" font-weight="normal" fill="#666" stroke="#666" >0</text>
<line x1="472.00" y1="335.82" x2="473.00" y2="335.82" stroke="#666" stroke-width="0.4" />
<text x="470.20" y="346.37" font-size="3.4" text-anchor="middle" font-weight="normal" fill="#666" stroke="#666" >0</text>
<line x1="472.00" y1="345.15" x2="473.00" y2="345.15" stroke="#666" stroke-width="0.4" />
<text x="470.20" y="355.69" font-size="3.4" text-anchor="middle" font-weight="normal" fill="#666" stroke="#666" >0</text>
<line x1="472.00" y1="354.48" x2="473.00" y2="354.48" stroke="#666" stroke-width="0.4" />
<text x="470.20" y="365.02" font-size="3.4" text-anchor="middle" font-weight="normal" fill="#666" stroke="#666" >0</text>
<line x1="472.00" y1="363.80" x2="473.00" y2="363.80" stroke="#666" stroke-width="0.4" />
<line x1="474.50" y1="363.80" x2="474.50" y2="365.00" stroke="#666" stroke-width="0.4" />
<text x="474.50" y="368.07" font-size="3.0" text-anchor="middle" font-weight="normal" fill="#666" stroke="#666" >10</text>
<line x1="485.12" y1="363.80" x2="485.12" y2="365.00" stroke="#666" stroke-width="0.4" />
<text x="485.12" y="368.07" font-size="3.0" text-anchor="middle" font-weight="normal" fill="#666" stroke="#666" >10</text>
<line x1="495.75" y1="363.80" x2="495.75" y2="365.00" stroke="#666" stroke-width="0.4" />
<text x="495.75" y="368.07" font-size="3.0" text-anchor="middle" font-weight="normal" fill="#666" stroke="#666" >10</text>
<line x1="506.38" y1="363.80" x2="506.38" y2="365.00" stroke="#666" stroke-width="0.4" />
<text x="506.38" y="368.07" font-size="3.0" text-anchor="middle" font-weight="normal" fill="#666" stroke="#666" >10</text>
<line x1="517.00" y1="363.80" x2="517.00" y2="365.00" stroke="#666" stroke-width="0.4" />
<text x="517.00" y="368.07" font-size="3.0" text-anchor="middle" font-weight="normal" fill="#666" stroke="#666" >10</text>
<text x="495.25" y="371.33" font-size="2.6" text-anchor="middle" font-weight="normal" fill="#777" stroke="#777" >FL1-Height</text>
<line x1="156.30" y1="380.20" x2="309.50" y2="380.20" stroke="#222" stroke-width="0.9" />
<line x1="348.50" y1="380.20" x2="515.50" y2="380.20" stroke="#222" stroke-width="0.9" />
<path d="M514.5,378.2 L518.8,380.2 L514.5,382.2 Z" fill="#222" stroke="none" stroke-width="0.8" />
<text x="328.80" y="383.06" font-size="8.0" text-anchor="middle" font-weight="bold" fill="#111" stroke="#111" >CD300LF</text>
</svg>
</body></html>
